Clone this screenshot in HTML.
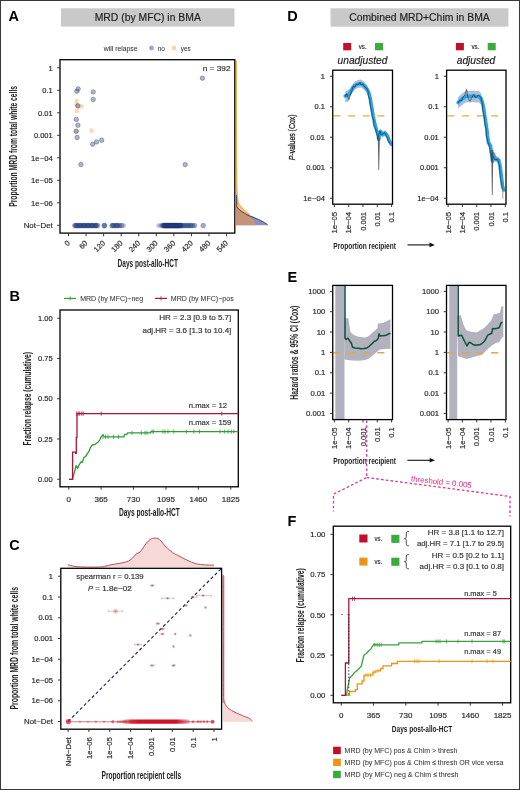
<!DOCTYPE html><html><head><meta charset="utf-8"><style>html,body{margin:0;padding:0;background:#fff;overflow:hidden;width:520px;height:790px}svg{display:block;will-change:transform}text{font-family:"Liberation Sans",sans-serif}</style></head><body><svg width="520" height="790" viewBox="0 0 520 790" font-family='"Liberation Sans", sans-serif'>
<rect x="0.00" y="0.00" width="520.00" height="790.00" fill="#fff" />
<text x="8.60" y="20.80" font-size="14.5" font-weight="bold">A</text>
<rect x="61.00" y="8.30" width="173.50" height="18.30" fill="#c9c9ca" />
<text x="147.75" y="21.30" font-size="10.4" text-anchor="middle" fill="#222" stroke="#222" stroke-width="0.18">MRD (by MFC) in BMA</text>
<text x="103.80" y="50.50" font-size="7.0" fill="#333" stroke="#333" stroke-width="0.05" textLength="33.70" lengthAdjust="spacingAndGlyphs">will relapse</text>
<circle cx="151.50" cy="48.00" r="2.4" fill="#a3a6cc"/>
<text x="157.70" y="50.50" font-size="7.0" fill="#333" stroke="#333" stroke-width="0.05" textLength="7.30" lengthAdjust="spacingAndGlyphs">no</text>
<circle cx="174.00" cy="48.00" r="2.4" fill="#f8d3b0"/>
<text x="180.80" y="50.50" font-size="7.0" fill="#333" stroke="#333" stroke-width="0.05" textLength="10.00" lengthAdjust="spacingAndGlyphs">yes</text>
<path d="M236.20 60.50 C236.22 75.42 236.25 127.58 236.30 150.00 C236.35 172.42 236.42 186.17 236.50 195.00 C236.58 203.83 236.70 200.98 236.80 203.00 C236.90 205.02 236.42 205.78 237.10 207.10 C237.78 208.42 239.67 209.88 240.90 210.90 C242.13 211.92 243.33 212.50 244.50 213.20 C245.67 213.90 246.18 214.32 247.90 215.10 C249.62 215.88 252.50 216.92 254.80 217.90 C257.10 218.88 260.00 220.15 261.70 221.00 C263.40 221.85 264.02 222.37 265.00 223.00 C265.98 223.63 267.17 224.50 267.60 224.80 L267.60 225.30 L236.00 225.30 Z" stroke="none" stroke-width="1" fill="rgba(59,73,146,0.6)" />
<path d="M236.30 60.50 C236.33 75.42 236.40 128.75 236.50 150.00 C236.60 171.25 236.62 179.35 236.90 188.00 C237.18 196.65 237.53 198.77 238.20 201.90 C238.87 205.03 239.75 205.30 240.90 206.80 C242.05 208.30 243.60 209.52 245.10 210.90 C246.60 212.28 248.67 213.83 249.90 215.10 C251.13 216.37 251.73 217.43 252.50 218.50 C253.27 219.57 253.88 220.38 254.50 221.50 C255.12 222.62 255.92 224.58 256.20 225.20 L256.20 225.30 L236.00 225.30 Z" stroke="none" stroke-width="1" fill="rgba(245,148,62,0.55)" />
<path d="M236.50 195.00 C236.55 196.33 236.70 200.98 236.80 203.00 C236.90 205.02 236.42 205.78 237.10 207.10 C237.78 208.42 239.67 209.88 240.90 210.90 C242.13 211.92 243.33 212.50 244.50 213.20 C245.67 213.90 246.18 214.32 247.90 215.10 C249.62 215.88 252.50 216.92 254.80 217.90 C257.10 218.88 260.00 220.15 261.70 221.00 C263.40 221.85 264.02 222.37 265.00 223.00 C265.98 223.63 267.17 224.50 267.60 224.80" stroke="#2b355f" stroke-width="1.0" fill="none" />
<path d="M236.30 60.50 C236.33 75.42 236.40 128.75 236.50 150.00 C236.60 171.25 236.62 179.35 236.90 188.00 C237.18 196.65 237.53 198.77 238.20 201.90 C238.87 205.03 239.75 205.30 240.90 206.80 C242.05 208.30 243.60 209.52 245.10 210.90 C246.60 212.28 249.10 214.40 249.90 215.10" stroke="#e8b440" stroke-width="1.2" fill="none" />
<rect x="60.00" y="59.70" width="174.80" height="173.40" fill="none" stroke="#000" stroke-width="1.3" />
<line x1="57.20" y1="67.80" x2="60.00" y2="67.80" stroke="#333" stroke-width="1" />
<text x="52.70" y="70.50" font-size="7.5" text-anchor="end" fill="#2a2a2a" stroke="#2a2a2a" stroke-width="0.18">1</text>
<line x1="57.20" y1="90.30" x2="60.00" y2="90.30" stroke="#333" stroke-width="1" />
<text x="52.70" y="93.00" font-size="7.5" text-anchor="end" fill="#2a2a2a" stroke="#2a2a2a" stroke-width="0.18">0.1</text>
<line x1="57.20" y1="112.80" x2="60.00" y2="112.80" stroke="#333" stroke-width="1" />
<text x="52.70" y="115.50" font-size="7.5" text-anchor="end" fill="#2a2a2a" stroke="#2a2a2a" stroke-width="0.18">0.01</text>
<line x1="57.20" y1="135.30" x2="60.00" y2="135.30" stroke="#333" stroke-width="1" />
<text x="52.70" y="138.00" font-size="7.5" text-anchor="end" fill="#2a2a2a" stroke="#2a2a2a" stroke-width="0.18">0.001</text>
<line x1="57.20" y1="157.80" x2="60.00" y2="157.80" stroke="#333" stroke-width="1" />
<text x="52.70" y="160.50" font-size="7.5" text-anchor="end" fill="#2a2a2a" stroke="#2a2a2a" stroke-width="0.18" textLength="21.60" lengthAdjust="spacingAndGlyphs">1e−04</text>
<line x1="57.20" y1="180.30" x2="60.00" y2="180.30" stroke="#333" stroke-width="1" />
<text x="52.70" y="183.00" font-size="7.5" text-anchor="end" fill="#2a2a2a" stroke="#2a2a2a" stroke-width="0.18" textLength="21.60" lengthAdjust="spacingAndGlyphs">1e−05</text>
<line x1="57.20" y1="202.80" x2="60.00" y2="202.80" stroke="#333" stroke-width="1" />
<text x="52.70" y="205.50" font-size="7.5" text-anchor="end" fill="#2a2a2a" stroke="#2a2a2a" stroke-width="0.18" textLength="21.60" lengthAdjust="spacingAndGlyphs">1e−06</text>
<line x1="57.20" y1="225.30" x2="60.00" y2="225.30" stroke="#333" stroke-width="1" />
<text x="52.70" y="228.00" font-size="7.5" text-anchor="end" fill="#2a2a2a" stroke="#2a2a2a" stroke-width="0.18" textLength="29.00" lengthAdjust="spacingAndGlyphs">Not−Det</text>
<line x1="68.50" y1="233.10" x2="68.50" y2="236.30" stroke="#333" stroke-width="1" />
<text x="70.50" y="243.60" font-size="7.5" text-anchor="end" fill="#2a2a2a" stroke="#2a2a2a" stroke-width="0.18" transform="rotate(-45 70.50 243.60)">0</text>
<line x1="86.06" y1="233.10" x2="86.06" y2="236.30" stroke="#333" stroke-width="1" />
<text x="88.06" y="243.60" font-size="7.5" text-anchor="end" fill="#2a2a2a" stroke="#2a2a2a" stroke-width="0.18" transform="rotate(-45 88.06 243.60)">60</text>
<line x1="103.62" y1="233.10" x2="103.62" y2="236.30" stroke="#333" stroke-width="1" />
<text x="105.62" y="243.60" font-size="7.5" text-anchor="end" fill="#2a2a2a" stroke="#2a2a2a" stroke-width="0.18" transform="rotate(-45 105.62 243.60)">120</text>
<line x1="121.18" y1="233.10" x2="121.18" y2="236.30" stroke="#333" stroke-width="1" />
<text x="123.18" y="243.60" font-size="7.5" text-anchor="end" fill="#2a2a2a" stroke="#2a2a2a" stroke-width="0.18" transform="rotate(-45 123.18 243.60)">180</text>
<line x1="138.74" y1="233.10" x2="138.74" y2="236.30" stroke="#333" stroke-width="1" />
<text x="140.74" y="243.60" font-size="7.5" text-anchor="end" fill="#2a2a2a" stroke="#2a2a2a" stroke-width="0.18" transform="rotate(-45 140.74 243.60)">240</text>
<line x1="156.30" y1="233.10" x2="156.30" y2="236.30" stroke="#333" stroke-width="1" />
<text x="158.30" y="243.60" font-size="7.5" text-anchor="end" fill="#2a2a2a" stroke="#2a2a2a" stroke-width="0.18" transform="rotate(-45 158.30 243.60)">300</text>
<line x1="173.86" y1="233.10" x2="173.86" y2="236.30" stroke="#333" stroke-width="1" />
<text x="175.86" y="243.60" font-size="7.5" text-anchor="end" fill="#2a2a2a" stroke="#2a2a2a" stroke-width="0.18" transform="rotate(-45 175.86 243.60)">360</text>
<line x1="191.42" y1="233.10" x2="191.42" y2="236.30" stroke="#333" stroke-width="1" />
<text x="193.42" y="243.60" font-size="7.5" text-anchor="end" fill="#2a2a2a" stroke="#2a2a2a" stroke-width="0.18" transform="rotate(-45 193.42 243.60)">420</text>
<line x1="208.98" y1="233.10" x2="208.98" y2="236.30" stroke="#333" stroke-width="1" />
<text x="210.98" y="243.60" font-size="7.5" text-anchor="end" fill="#2a2a2a" stroke="#2a2a2a" stroke-width="0.18" transform="rotate(-45 210.98 243.60)">480</text>
<line x1="226.54" y1="233.10" x2="226.54" y2="236.30" stroke="#333" stroke-width="1" />
<text x="228.54" y="243.60" font-size="7.5" text-anchor="end" fill="#2a2a2a" stroke="#2a2a2a" stroke-width="0.18" transform="rotate(-45 228.54 243.60)">540</text>
<text x="147.75" y="266.70" font-size="10" text-anchor="middle" fill="#222" font-weight="bold" textLength="60.50" lengthAdjust="spacingAndGlyphs">Days post-allo-HCT</text>
<text x="17.30" y="146.35" font-size="10" text-anchor="middle" fill="#222" font-weight="bold" textLength="120.90" lengthAdjust="spacingAndGlyphs" transform="rotate(-90 17.30 146.35)">Proportion MRD from total white cells</text>
<text x="230.50" y="71.00" font-size="7.6" text-anchor="end" fill="#333" stroke="#333" stroke-width="0.18" textLength="27.80" lengthAdjust="spacingAndGlyphs">n = 392</text>
<circle cx="76.60" cy="101.00" r="2.35" fill="rgba(240,168,95,0.42)"/>
<circle cx="81.50" cy="106.40" r="2.35" fill="rgba(240,168,95,0.42)"/>
<circle cx="76.80" cy="110.90" r="2.35" fill="rgba(240,168,95,0.42)"/>
<circle cx="91.60" cy="130.70" r="2.35" fill="rgba(240,168,95,0.42)"/>
<circle cx="77.50" cy="106.50" r="2.35" fill="rgba(240,168,95,0.42)"/>
<circle cx="76.60" cy="131.50" r="2.35" fill="rgba(240,168,95,0.42)"/>
<circle cx="76.50" cy="104.50" r="2.35" fill="rgba(240,168,95,0.42)"/>
<circle cx="78.20" cy="88.90" r="2.2" fill="rgba(85,95,150,0.45)" stroke="rgba(55,62,105,0.6)" stroke-width="0.7"/>
<circle cx="76.80" cy="91.20" r="2.2" fill="rgba(85,95,150,0.45)" stroke="rgba(55,62,105,0.6)" stroke-width="0.7"/>
<circle cx="93.20" cy="91.90" r="2.2" fill="rgba(85,95,150,0.45)" stroke="rgba(55,62,105,0.6)" stroke-width="0.7"/>
<circle cx="93.20" cy="99.40" r="2.2" fill="rgba(85,95,150,0.45)" stroke="rgba(55,62,105,0.6)" stroke-width="0.7"/>
<circle cx="77.90" cy="105.80" r="2.2" fill="rgba(85,95,150,0.45)" stroke="rgba(55,62,105,0.6)" stroke-width="0.7"/>
<circle cx="76.30" cy="119.40" r="2.2" fill="rgba(85,95,150,0.45)" stroke="rgba(55,62,105,0.6)" stroke-width="0.7"/>
<circle cx="77.90" cy="125.20" r="2.2" fill="rgba(85,95,150,0.45)" stroke="rgba(55,62,105,0.6)" stroke-width="0.7"/>
<circle cx="76.20" cy="131.20" r="2.2" fill="rgba(85,95,150,0.45)" stroke="rgba(55,62,105,0.6)" stroke-width="0.7"/>
<circle cx="77.10" cy="137.50" r="2.2" fill="rgba(85,95,150,0.45)" stroke="rgba(55,62,105,0.6)" stroke-width="0.7"/>
<circle cx="92.60" cy="144.20" r="2.2" fill="rgba(85,95,150,0.45)" stroke="rgba(55,62,105,0.6)" stroke-width="0.7"/>
<circle cx="96.60" cy="141.90" r="2.2" fill="rgba(85,95,150,0.45)" stroke="rgba(55,62,105,0.6)" stroke-width="0.7"/>
<circle cx="101.70" cy="140.20" r="2.2" fill="rgba(85,95,150,0.45)" stroke="rgba(55,62,105,0.6)" stroke-width="0.7"/>
<circle cx="80.90" cy="164.50" r="2.2" fill="rgba(85,95,150,0.45)" stroke="rgba(55,62,105,0.6)" stroke-width="0.7"/>
<circle cx="202.40" cy="78.20" r="2.2" fill="rgba(85,95,150,0.45)" stroke="rgba(55,62,105,0.6)" stroke-width="0.7"/>
<circle cx="185.20" cy="164.60" r="2.2" fill="rgba(85,95,150,0.45)" stroke="rgba(55,62,105,0.6)" stroke-width="0.7"/>
<circle cx="74.80" cy="225.60" r="2.35" fill="rgba(38,70,140,0.45)" stroke="rgba(25,42,95,0.45)" stroke-width="0.6"/>
<circle cx="76.50" cy="225.60" r="2.35" fill="rgba(38,70,140,0.45)" stroke="rgba(25,42,95,0.45)" stroke-width="0.6"/>
<circle cx="78.00" cy="225.60" r="2.35" fill="rgba(38,70,140,0.45)" stroke="rgba(25,42,95,0.45)" stroke-width="0.6"/>
<circle cx="79.50" cy="225.60" r="2.35" fill="rgba(38,70,140,0.45)" stroke="rgba(25,42,95,0.45)" stroke-width="0.6"/>
<circle cx="81.00" cy="225.60" r="2.35" fill="rgba(38,70,140,0.45)" stroke="rgba(25,42,95,0.45)" stroke-width="0.6"/>
<circle cx="82.50" cy="225.60" r="2.35" fill="rgba(38,70,140,0.45)" stroke="rgba(25,42,95,0.45)" stroke-width="0.6"/>
<circle cx="84.00" cy="225.60" r="2.35" fill="rgba(38,70,140,0.45)" stroke="rgba(25,42,95,0.45)" stroke-width="0.6"/>
<circle cx="85.50" cy="225.60" r="2.35" fill="rgba(38,70,140,0.45)" stroke="rgba(25,42,95,0.45)" stroke-width="0.6"/>
<circle cx="87.00" cy="225.60" r="2.35" fill="rgba(38,70,140,0.45)" stroke="rgba(25,42,95,0.45)" stroke-width="0.6"/>
<circle cx="88.50" cy="225.60" r="2.35" fill="rgba(38,70,140,0.45)" stroke="rgba(25,42,95,0.45)" stroke-width="0.6"/>
<circle cx="90.00" cy="225.60" r="2.35" fill="rgba(38,70,140,0.45)" stroke="rgba(25,42,95,0.45)" stroke-width="0.6"/>
<circle cx="91.50" cy="225.60" r="2.35" fill="rgba(38,70,140,0.45)" stroke="rgba(25,42,95,0.45)" stroke-width="0.6"/>
<circle cx="93.00" cy="225.60" r="2.35" fill="rgba(38,70,140,0.45)" stroke="rgba(25,42,95,0.45)" stroke-width="0.6"/>
<circle cx="94.50" cy="225.60" r="2.35" fill="rgba(38,70,140,0.45)" stroke="rgba(25,42,95,0.45)" stroke-width="0.6"/>
<circle cx="96.00" cy="225.60" r="2.35" fill="rgba(38,70,140,0.45)" stroke="rgba(25,42,95,0.45)" stroke-width="0.6"/>
<circle cx="97.60" cy="225.60" r="2.35" fill="rgba(38,70,140,0.45)" stroke="rgba(25,42,95,0.45)" stroke-width="0.6"/>
<circle cx="104.40" cy="225.60" r="2.35" fill="rgba(38,70,140,0.45)" stroke="rgba(25,42,95,0.45)" stroke-width="0.6"/>
<circle cx="112.00" cy="225.60" r="2.35" fill="rgba(38,70,140,0.45)" stroke="rgba(25,42,95,0.45)" stroke-width="0.6"/>
<circle cx="114.00" cy="225.60" r="2.35" fill="rgba(38,70,140,0.45)" stroke="rgba(25,42,95,0.45)" stroke-width="0.6"/>
<circle cx="116.00" cy="225.60" r="2.35" fill="rgba(38,70,140,0.45)" stroke="rgba(25,42,95,0.45)" stroke-width="0.6"/>
<circle cx="118.00" cy="225.60" r="2.35" fill="rgba(38,70,140,0.45)" stroke="rgba(25,42,95,0.45)" stroke-width="0.6"/>
<circle cx="120.00" cy="225.60" r="2.35" fill="rgba(38,70,140,0.45)" stroke="rgba(25,42,95,0.45)" stroke-width="0.6"/>
<circle cx="121.80" cy="225.60" r="2.35" fill="rgba(38,70,140,0.45)" stroke="rgba(25,42,95,0.45)" stroke-width="0.6"/>
<circle cx="76.00" cy="225.60" r="2.35" fill="rgba(38,70,140,0.45)" stroke="rgba(25,42,95,0.45)" stroke-width="0.6"/>
<circle cx="80.00" cy="225.60" r="2.35" fill="rgba(38,70,140,0.45)" stroke="rgba(25,42,95,0.45)" stroke-width="0.6"/>
<circle cx="84.00" cy="225.60" r="2.35" fill="rgba(38,70,140,0.45)" stroke="rgba(25,42,95,0.45)" stroke-width="0.6"/>
<circle cx="88.00" cy="225.60" r="2.35" fill="rgba(38,70,140,0.45)" stroke="rgba(25,42,95,0.45)" stroke-width="0.6"/>
<circle cx="92.00" cy="225.60" r="2.35" fill="rgba(38,70,140,0.45)" stroke="rgba(25,42,95,0.45)" stroke-width="0.6"/>
<circle cx="96.00" cy="225.60" r="2.35" fill="rgba(38,70,140,0.45)" stroke="rgba(25,42,95,0.45)" stroke-width="0.6"/>
<circle cx="104.40" cy="225.60" r="2.35" fill="rgba(38,70,140,0.45)" stroke="rgba(25,42,95,0.45)" stroke-width="0.6"/>
<circle cx="113.00" cy="225.60" r="2.35" fill="rgba(38,70,140,0.45)" stroke="rgba(25,42,95,0.45)" stroke-width="0.6"/>
<circle cx="117.00" cy="225.60" r="2.35" fill="rgba(38,70,140,0.45)" stroke="rgba(25,42,95,0.45)" stroke-width="0.6"/>
<circle cx="123.80" cy="225.60" r="2.3" fill="rgba(120,130,175,0.45)"/>
<circle cx="158.50" cy="225.60" r="2.3" fill="rgba(120,130,175,0.45)"/>
<circle cx="160.50" cy="225.60" r="2.3" fill="rgba(120,130,175,0.45)"/>
<circle cx="162.30" cy="225.60" r="2.35" fill="rgba(38,70,140,0.45)" stroke="rgba(25,42,95,0.45)" stroke-width="0.6"/>
<circle cx="163.80" cy="225.60" r="2.35" fill="rgba(38,70,140,0.45)" stroke="rgba(25,42,95,0.45)" stroke-width="0.6"/>
<circle cx="163.80" cy="225.60" r="2.35" fill="rgba(38,70,140,0.45)" stroke="rgba(25,42,95,0.45)" stroke-width="0.6"/>
<circle cx="164.70" cy="225.60" r="2.35" fill="rgba(38,70,140,0.45)" stroke="rgba(25,42,95,0.45)" stroke-width="0.6"/>
<circle cx="164.70" cy="225.60" r="2.35" fill="rgba(38,70,140,0.45)" stroke="rgba(25,42,95,0.45)" stroke-width="0.6"/>
<circle cx="165.60" cy="225.60" r="2.35" fill="rgba(38,70,140,0.45)" stroke="rgba(25,42,95,0.45)" stroke-width="0.6"/>
<circle cx="165.60" cy="225.60" r="2.35" fill="rgba(38,70,140,0.45)" stroke="rgba(25,42,95,0.45)" stroke-width="0.6"/>
<circle cx="166.50" cy="225.60" r="2.35" fill="rgba(38,70,140,0.45)" stroke="rgba(25,42,95,0.45)" stroke-width="0.6"/>
<circle cx="166.50" cy="225.60" r="2.35" fill="rgba(38,70,140,0.45)" stroke="rgba(25,42,95,0.45)" stroke-width="0.6"/>
<circle cx="167.40" cy="225.60" r="2.35" fill="rgba(38,70,140,0.45)" stroke="rgba(25,42,95,0.45)" stroke-width="0.6"/>
<circle cx="167.40" cy="225.60" r="2.35" fill="rgba(38,70,140,0.45)" stroke="rgba(25,42,95,0.45)" stroke-width="0.6"/>
<circle cx="168.30" cy="225.60" r="2.35" fill="rgba(38,70,140,0.45)" stroke="rgba(25,42,95,0.45)" stroke-width="0.6"/>
<circle cx="168.30" cy="225.60" r="2.35" fill="rgba(38,70,140,0.45)" stroke="rgba(25,42,95,0.45)" stroke-width="0.6"/>
<circle cx="169.20" cy="225.60" r="2.35" fill="rgba(38,70,140,0.45)" stroke="rgba(25,42,95,0.45)" stroke-width="0.6"/>
<circle cx="169.20" cy="225.60" r="2.35" fill="rgba(38,70,140,0.45)" stroke="rgba(25,42,95,0.45)" stroke-width="0.6"/>
<circle cx="170.10" cy="225.60" r="2.35" fill="rgba(38,70,140,0.45)" stroke="rgba(25,42,95,0.45)" stroke-width="0.6"/>
<circle cx="170.10" cy="225.60" r="2.35" fill="rgba(38,70,140,0.45)" stroke="rgba(25,42,95,0.45)" stroke-width="0.6"/>
<circle cx="171.00" cy="225.60" r="2.35" fill="rgba(38,70,140,0.45)" stroke="rgba(25,42,95,0.45)" stroke-width="0.6"/>
<circle cx="171.00" cy="225.60" r="2.35" fill="rgba(38,70,140,0.45)" stroke="rgba(25,42,95,0.45)" stroke-width="0.6"/>
<circle cx="171.90" cy="225.60" r="2.35" fill="rgba(38,70,140,0.45)" stroke="rgba(25,42,95,0.45)" stroke-width="0.6"/>
<circle cx="171.90" cy="225.60" r="2.35" fill="rgba(38,70,140,0.45)" stroke="rgba(25,42,95,0.45)" stroke-width="0.6"/>
<circle cx="172.80" cy="225.60" r="2.35" fill="rgba(38,70,140,0.45)" stroke="rgba(25,42,95,0.45)" stroke-width="0.6"/>
<circle cx="172.80" cy="225.60" r="2.35" fill="rgba(38,70,140,0.45)" stroke="rgba(25,42,95,0.45)" stroke-width="0.6"/>
<circle cx="173.70" cy="225.60" r="2.35" fill="rgba(38,70,140,0.45)" stroke="rgba(25,42,95,0.45)" stroke-width="0.6"/>
<circle cx="173.70" cy="225.60" r="2.35" fill="rgba(38,70,140,0.45)" stroke="rgba(25,42,95,0.45)" stroke-width="0.6"/>
<circle cx="174.60" cy="225.60" r="2.35" fill="rgba(38,70,140,0.45)" stroke="rgba(25,42,95,0.45)" stroke-width="0.6"/>
<circle cx="174.60" cy="225.60" r="2.35" fill="rgba(38,70,140,0.45)" stroke="rgba(25,42,95,0.45)" stroke-width="0.6"/>
<circle cx="175.50" cy="225.60" r="2.35" fill="rgba(38,70,140,0.45)" stroke="rgba(25,42,95,0.45)" stroke-width="0.6"/>
<circle cx="175.50" cy="225.60" r="2.35" fill="rgba(38,70,140,0.45)" stroke="rgba(25,42,95,0.45)" stroke-width="0.6"/>
<circle cx="176.40" cy="225.60" r="2.35" fill="rgba(38,70,140,0.45)" stroke="rgba(25,42,95,0.45)" stroke-width="0.6"/>
<circle cx="176.40" cy="225.60" r="2.35" fill="rgba(38,70,140,0.45)" stroke="rgba(25,42,95,0.45)" stroke-width="0.6"/>
<circle cx="177.30" cy="225.60" r="2.35" fill="rgba(38,70,140,0.45)" stroke="rgba(25,42,95,0.45)" stroke-width="0.6"/>
<circle cx="177.30" cy="225.60" r="2.35" fill="rgba(38,70,140,0.45)" stroke="rgba(25,42,95,0.45)" stroke-width="0.6"/>
<circle cx="178.20" cy="225.60" r="2.35" fill="rgba(38,70,140,0.45)" stroke="rgba(25,42,95,0.45)" stroke-width="0.6"/>
<circle cx="178.20" cy="225.60" r="2.35" fill="rgba(38,70,140,0.45)" stroke="rgba(25,42,95,0.45)" stroke-width="0.6"/>
<circle cx="179.10" cy="225.60" r="2.35" fill="rgba(38,70,140,0.45)" stroke="rgba(25,42,95,0.45)" stroke-width="0.6"/>
<circle cx="179.10" cy="225.60" r="2.35" fill="rgba(38,70,140,0.45)" stroke="rgba(25,42,95,0.45)" stroke-width="0.6"/>
<circle cx="180.00" cy="225.60" r="2.35" fill="rgba(38,70,140,0.45)" stroke="rgba(25,42,95,0.45)" stroke-width="0.6"/>
<circle cx="180.00" cy="225.60" r="2.35" fill="rgba(38,70,140,0.45)" stroke="rgba(25,42,95,0.45)" stroke-width="0.6"/>
<circle cx="180.90" cy="225.60" r="2.35" fill="rgba(38,70,140,0.45)" stroke="rgba(25,42,95,0.45)" stroke-width="0.6"/>
<circle cx="180.90" cy="225.60" r="2.35" fill="rgba(38,70,140,0.45)" stroke="rgba(25,42,95,0.45)" stroke-width="0.6"/>
<circle cx="182.00" cy="225.60" r="2.35" fill="rgba(38,70,140,0.45)" stroke="rgba(25,42,95,0.45)" stroke-width="0.6"/>
<circle cx="183.50" cy="225.60" r="2.35" fill="rgba(38,70,140,0.45)" stroke="rgba(25,42,95,0.45)" stroke-width="0.6"/>
<circle cx="185.00" cy="225.60" r="2.35" fill="rgba(38,70,140,0.45)" stroke="rgba(25,42,95,0.45)" stroke-width="0.6"/>
<circle cx="186.50" cy="225.60" r="2.35" fill="rgba(38,70,140,0.45)" stroke="rgba(25,42,95,0.45)" stroke-width="0.6"/>
<circle cx="188.00" cy="225.60" r="2.35" fill="rgba(38,70,140,0.45)" stroke="rgba(25,42,95,0.45)" stroke-width="0.6"/>
<circle cx="189.50" cy="225.60" r="2.35" fill="rgba(38,70,140,0.45)" stroke="rgba(25,42,95,0.45)" stroke-width="0.6"/>
<circle cx="191.00" cy="225.60" r="2.35" fill="rgba(38,70,140,0.45)" stroke="rgba(25,42,95,0.45)" stroke-width="0.6"/>
<circle cx="192.50" cy="225.60" r="2.35" fill="rgba(38,70,140,0.45)" stroke="rgba(25,42,95,0.45)" stroke-width="0.6"/>
<circle cx="194.60" cy="225.60" r="2.35" fill="rgba(38,70,140,0.45)" stroke="rgba(25,42,95,0.45)" stroke-width="0.6"/>
<circle cx="203.20" cy="225.60" r="2.35" fill="rgba(38,70,140,0.45)" stroke="rgba(25,42,95,0.45)" stroke-width="0.6"/>
<text x="9.60" y="301.30" font-size="14.5" font-weight="bold">B</text>
<line x1="64.00" y1="298.40" x2="76.00" y2="298.40" stroke="#2f9e37" stroke-width="1.2" />
<line x1="70.20" y1="296.30" x2="70.20" y2="300.50" stroke="#2f9e37" stroke-width="0.8" />
<text x="80.20" y="301.00" font-size="7.5" fill="#333" stroke="#333" stroke-width="0.04" textLength="63.00" lengthAdjust="spacingAndGlyphs">MRD (by MFC)−neg</text>
<line x1="155.00" y1="298.40" x2="167.00" y2="298.40" stroke="#a9163c" stroke-width="1.2" />
<line x1="161.00" y1="296.30" x2="161.00" y2="300.50" stroke="#a9163c" stroke-width="0.8" />
<text x="170.75" y="301.00" font-size="7.5" fill="#333" stroke="#333" stroke-width="0.04" textLength="63.00" lengthAdjust="spacingAndGlyphs">MRD (by MFC)−pos</text>
<rect x="60.00" y="310.00" width="178.30" height="176.80" fill="none" stroke="#000" stroke-width="1.3" />
<line x1="57.20" y1="318.25" x2="60.00" y2="318.25" stroke="#333" stroke-width="1" />
<text x="52.60" y="320.95" font-size="7.5" text-anchor="end" fill="#2a2a2a" stroke="#2a2a2a" stroke-width="0.18">1.00</text>
<line x1="57.20" y1="358.50" x2="60.00" y2="358.50" stroke="#333" stroke-width="1" />
<text x="52.60" y="361.20" font-size="7.5" text-anchor="end" fill="#2a2a2a" stroke="#2a2a2a" stroke-width="0.18">0.75</text>
<line x1="57.20" y1="398.75" x2="60.00" y2="398.75" stroke="#333" stroke-width="1" />
<text x="52.60" y="401.45" font-size="7.5" text-anchor="end" fill="#2a2a2a" stroke="#2a2a2a" stroke-width="0.18">0.50</text>
<line x1="57.20" y1="439.00" x2="60.00" y2="439.00" stroke="#333" stroke-width="1" />
<text x="52.60" y="441.70" font-size="7.5" text-anchor="end" fill="#2a2a2a" stroke="#2a2a2a" stroke-width="0.18">0.25</text>
<line x1="57.20" y1="479.25" x2="60.00" y2="479.25" stroke="#333" stroke-width="1" />
<text x="52.60" y="481.95" font-size="7.5" text-anchor="end" fill="#2a2a2a" stroke="#2a2a2a" stroke-width="0.18">0.00</text>
<line x1="68.75" y1="486.80" x2="68.75" y2="489.60" stroke="#333" stroke-width="1" />
<text x="68.75" y="501.90" font-size="8.0" text-anchor="middle" fill="#2a2a2a" stroke="#2a2a2a" stroke-width="0.18">0</text>
<line x1="101.15" y1="486.80" x2="101.15" y2="489.60" stroke="#333" stroke-width="1" />
<text x="101.15" y="501.90" font-size="8.0" text-anchor="middle" fill="#2a2a2a" stroke="#2a2a2a" stroke-width="0.18">365</text>
<line x1="133.55" y1="486.80" x2="133.55" y2="489.60" stroke="#333" stroke-width="1" />
<text x="133.55" y="501.90" font-size="8.0" text-anchor="middle" fill="#2a2a2a" stroke="#2a2a2a" stroke-width="0.18">730</text>
<line x1="165.95" y1="486.80" x2="165.95" y2="489.60" stroke="#333" stroke-width="1" />
<text x="165.95" y="501.90" font-size="8.0" text-anchor="middle" fill="#2a2a2a" stroke="#2a2a2a" stroke-width="0.18">1095</text>
<line x1="198.35" y1="486.80" x2="198.35" y2="489.60" stroke="#333" stroke-width="1" />
<text x="198.35" y="501.90" font-size="8.0" text-anchor="middle" fill="#2a2a2a" stroke="#2a2a2a" stroke-width="0.18">1460</text>
<line x1="230.75" y1="486.80" x2="230.75" y2="489.60" stroke="#333" stroke-width="1" />
<text x="230.75" y="501.90" font-size="8.0" text-anchor="middle" fill="#2a2a2a" stroke="#2a2a2a" stroke-width="0.18">1825</text>
<text x="149.40" y="516.40" font-size="10" text-anchor="middle" fill="#222" font-weight="bold" textLength="61.00" lengthAdjust="spacingAndGlyphs">Days post-allo-HCT</text>
<text x="30.90" y="398.85" font-size="10" text-anchor="middle" fill="#222" font-weight="bold" textLength="93.50" lengthAdjust="spacingAndGlyphs" transform="rotate(-90 30.90 398.85)">Fraction relapse (cumulative)</text>
<text x="231.30" y="320.30" font-size="7.9" text-anchor="end" fill="#333" stroke="#333" stroke-width="0.18" textLength="72.10" lengthAdjust="spacingAndGlyphs">HR = 2.3 [0.9 to 5.7]</text>
<text x="231.30" y="333.00" font-size="7.8" text-anchor="end" fill="#333" stroke="#333" stroke-width="0.18" textLength="88.80" lengthAdjust="spacingAndGlyphs">adj.HR = 3.6 [1.3 to 10.4]</text>
<text x="227.00" y="408.00" font-size="7.7" text-anchor="end" fill="#333" stroke="#333" stroke-width="0.18" textLength="38.20" lengthAdjust="spacingAndGlyphs">n.max = 12</text>
<text x="231.30" y="425.00" font-size="7.7" text-anchor="end" fill="#333" stroke="#333" stroke-width="0.18" textLength="42.50" lengthAdjust="spacingAndGlyphs">n.max = 159</text>
<polyline points="69.10,479.40 72.50,479.40 73.30,476.00 74.50,472.00 76.10,465.70 77.70,468.30 79.20,464.70 81.20,461.70 82.20,462.50 84.00,457.30 85.50,456.60 87.50,453.30 89.00,451.50 90.40,447.50 92.70,444.60 94.50,444.80 96.20,443.50 98.50,441.70 100.00,439.50 101.30,436.50 103.10,434.80 104.20,436.80 124.00,436.80 124.50,434.30 127.00,434.30 127.50,432.80 150.40,432.80 150.90,431.60 238.30,431.60" stroke="#2f9e37" stroke-width="1.3" fill="none" stroke-linejoin="round"/>
<line x1="103.00" y1="434.70" x2="103.00" y2="438.90" stroke="#2f9e37" stroke-width="0.8" />
<line x1="105.50" y1="434.70" x2="105.50" y2="438.90" stroke="#2f9e37" stroke-width="0.8" />
<line x1="108.00" y1="434.70" x2="108.00" y2="438.90" stroke="#2f9e37" stroke-width="0.8" />
<line x1="113.50" y1="434.70" x2="113.50" y2="438.90" stroke="#2f9e37" stroke-width="0.8" />
<line x1="118.50" y1="434.70" x2="118.50" y2="438.90" stroke="#2f9e37" stroke-width="0.8" />
<line x1="132.00" y1="430.70" x2="132.00" y2="434.90" stroke="#2f9e37" stroke-width="0.8" />
<line x1="141.30" y1="430.70" x2="141.30" y2="434.90" stroke="#2f9e37" stroke-width="0.8" />
<line x1="145.00" y1="430.70" x2="145.00" y2="434.90" stroke="#2f9e37" stroke-width="0.8" />
<line x1="147.00" y1="430.70" x2="147.00" y2="434.90" stroke="#2f9e37" stroke-width="0.8" />
<line x1="152.00" y1="429.50" x2="152.00" y2="433.70" stroke="#2f9e37" stroke-width="0.8" />
<line x1="153.40" y1="429.50" x2="153.40" y2="433.70" stroke="#2f9e37" stroke-width="0.8" />
<line x1="163.00" y1="429.50" x2="163.00" y2="433.70" stroke="#2f9e37" stroke-width="0.8" />
<line x1="165.00" y1="429.50" x2="165.00" y2="433.70" stroke="#2f9e37" stroke-width="0.8" />
<line x1="168.00" y1="429.50" x2="168.00" y2="433.70" stroke="#2f9e37" stroke-width="0.8" />
<line x1="173.80" y1="429.50" x2="173.80" y2="433.70" stroke="#2f9e37" stroke-width="0.8" />
<line x1="186.30" y1="429.50" x2="186.30" y2="433.70" stroke="#2f9e37" stroke-width="0.8" />
<line x1="193.80" y1="429.50" x2="193.80" y2="433.70" stroke="#2f9e37" stroke-width="0.8" />
<line x1="199.50" y1="429.50" x2="199.50" y2="433.70" stroke="#2f9e37" stroke-width="0.8" />
<line x1="220.00" y1="429.50" x2="220.00" y2="433.70" stroke="#2f9e37" stroke-width="0.8" />
<line x1="224.30" y1="429.50" x2="224.30" y2="433.70" stroke="#2f9e37" stroke-width="0.8" />
<line x1="228.00" y1="429.50" x2="228.00" y2="433.70" stroke="#2f9e37" stroke-width="0.8" />
<line x1="231.30" y1="429.50" x2="231.30" y2="433.70" stroke="#2f9e37" stroke-width="0.8" />
<line x1="233.80" y1="429.50" x2="233.80" y2="433.70" stroke="#2f9e37" stroke-width="0.8" />
<polyline points="69.10,479.40 72.60,479.40 72.60,452.10 75.60,452.10 75.60,453.40 76.30,453.40 76.30,437.40 77.00,437.40 77.00,413.60 238.30,413.60" stroke="#a9163c" stroke-width="1.3" fill="none" stroke-linejoin="miter"/>
<line x1="76.70" y1="411.50" x2="76.70" y2="415.70" stroke="#a9163c" stroke-width="0.8" />
<line x1="78.20" y1="411.50" x2="78.20" y2="415.70" stroke="#a9163c" stroke-width="0.8" />
<line x1="79.70" y1="411.50" x2="79.70" y2="415.70" stroke="#a9163c" stroke-width="0.8" />
<line x1="81.70" y1="411.50" x2="81.70" y2="415.70" stroke="#a9163c" stroke-width="0.8" />
<line x1="83.20" y1="411.50" x2="83.20" y2="415.70" stroke="#a9163c" stroke-width="0.8" />
<line x1="101.20" y1="411.50" x2="101.20" y2="415.70" stroke="#a9163c" stroke-width="0.8" />
<line x1="221.80" y1="411.50" x2="221.80" y2="415.70" stroke="#a9163c" stroke-width="0.8" />
<text x="9.30" y="550.20" font-size="14.5" font-weight="bold">C</text>
<path d="M67.80 564.60 C68.50 564.80 70.63 565.47 72.00 565.80 C73.37 566.13 74.53 566.42 76.00 566.60 C77.47 566.78 78.47 566.82 80.80 566.90 C83.13 566.98 86.55 567.10 90.00 567.10 C93.45 567.10 98.83 567.08 101.50 566.90 C104.17 566.72 104.27 566.38 106.00 566.00 C107.73 565.62 109.90 565.00 111.90 564.60 C113.90 564.20 115.70 564.03 118.00 563.60 C120.30 563.17 123.53 562.68 125.70 562.00 C127.87 561.32 129.28 560.80 131.00 559.50 C132.72 558.20 134.50 555.45 136.00 554.20 C137.50 552.95 138.83 553.03 140.00 552.00 C141.17 550.97 141.92 549.50 143.00 548.00 C144.08 546.50 145.33 544.42 146.50 543.00 C147.67 541.58 149.00 540.27 150.00 539.50 C151.00 538.73 151.67 538.63 152.50 538.40 C153.33 538.17 154.08 538.07 155.00 538.10 C155.92 538.13 157.00 538.12 158.00 538.60 C159.00 539.08 159.83 539.77 161.00 541.00 C162.17 542.23 163.50 544.42 165.00 546.00 C166.50 547.58 168.40 549.20 170.00 550.50 C171.60 551.80 172.93 552.80 174.60 553.80 C176.27 554.80 178.43 555.68 180.00 556.50 C181.57 557.32 182.50 557.95 184.00 558.70 C185.50 559.45 187.37 560.28 189.00 561.00 C190.63 561.72 192.30 562.47 193.80 563.00 C195.30 563.53 196.38 563.90 198.00 564.20 C199.62 564.50 201.83 564.67 203.50 564.80 C205.17 564.93 206.25 564.95 208.00 565.00 C209.75 565.05 213.00 565.08 214.00 565.10 L214.00 567.30 L67.80 567.30 Z" stroke="none" stroke-width="1" fill="rgba(222,115,110,0.28)" />
<path d="M67.80 564.60 C68.50 564.80 70.63 565.47 72.00 565.80 C73.37 566.13 74.53 566.42 76.00 566.60 C77.47 566.78 78.47 566.82 80.80 566.90 C83.13 566.98 86.55 567.10 90.00 567.10 C93.45 567.10 98.83 567.08 101.50 566.90 C104.17 566.72 104.27 566.38 106.00 566.00 C107.73 565.62 109.90 565.00 111.90 564.60 C113.90 564.20 115.70 564.03 118.00 563.60 C120.30 563.17 123.53 562.68 125.70 562.00 C127.87 561.32 129.28 560.80 131.00 559.50 C132.72 558.20 134.50 555.45 136.00 554.20 C137.50 552.95 138.83 553.03 140.00 552.00 C141.17 550.97 141.92 549.50 143.00 548.00 C144.08 546.50 145.33 544.42 146.50 543.00 C147.67 541.58 149.00 540.27 150.00 539.50 C151.00 538.73 151.67 538.63 152.50 538.40 C153.33 538.17 154.08 538.07 155.00 538.10 C155.92 538.13 157.00 538.12 158.00 538.60 C159.00 539.08 159.83 539.77 161.00 541.00 C162.17 542.23 163.50 544.42 165.00 546.00 C166.50 547.58 168.40 549.20 170.00 550.50 C171.60 551.80 172.93 552.80 174.60 553.80 C176.27 554.80 178.43 555.68 180.00 556.50 C181.57 557.32 182.50 557.95 184.00 558.70 C185.50 559.45 187.37 560.28 189.00 561.00 C190.63 561.72 192.30 562.47 193.80 563.00 C195.30 563.53 196.38 563.90 198.00 564.20 C199.62 564.50 201.83 564.67 203.50 564.80 C205.17 564.93 206.25 564.95 208.00 565.00 C209.75 565.05 213.00 565.08 214.00 565.10" stroke="#bb4d5e" stroke-width="1.0" fill="none" />
<path d="M223.30 575.00 C223.32 587.50 223.37 630.00 223.40 650.00 C223.43 670.00 223.43 686.67 223.50 695.00 C223.57 703.33 223.62 698.67 223.80 700.00 C223.98 701.33 224.15 701.97 224.60 703.00 C225.05 704.03 225.73 705.20 226.50 706.20 C227.27 707.20 227.95 708.07 229.20 709.00 C230.45 709.93 232.40 710.97 234.00 711.80 C235.60 712.63 237.22 713.30 238.80 714.00 C240.38 714.70 241.88 715.35 243.50 716.00 C245.12 716.65 247.28 717.35 248.50 717.90 C249.72 718.45 250.17 718.73 250.80 719.30 C251.43 719.87 252.05 720.97 252.30 721.30 L252.30 721.80 L223.00 721.80 Z" stroke="none" stroke-width="1" fill="rgba(222,115,110,0.28)" />
<path d="M223.30 575.00 C223.32 587.50 223.37 630.00 223.40 650.00 C223.43 670.00 223.43 686.67 223.50 695.00 C223.57 703.33 223.62 698.67 223.80 700.00 C223.98 701.33 224.15 701.97 224.60 703.00 C225.05 704.03 225.73 705.20 226.50 706.20 C227.27 707.20 227.95 708.07 229.20 709.00 C230.45 709.93 232.40 710.97 234.00 711.80 C235.60 712.63 237.22 713.30 238.80 714.00 C240.38 714.70 241.88 715.35 243.50 716.00 C245.12 716.65 247.28 717.35 248.50 717.90 C249.72 718.45 250.17 718.73 250.80 719.30 C251.43 719.87 252.05 720.97 252.30 721.30" stroke="#bb4d5e" stroke-width="1.0" fill="none" />
<rect x="222.30" y="576.00" width="2.20" height="127.00" fill="rgba(205,100,112,0.6)" />
<rect x="60.80" y="568.30" width="160.80" height="160.90" fill="none" stroke="#000" stroke-width="1.3" />
<line x1="58.00" y1="576.25" x2="60.80" y2="576.25" stroke="#333" stroke-width="1" />
<text x="53.00" y="578.95" font-size="7.5" text-anchor="end" fill="#2a2a2a" stroke="#2a2a2a" stroke-width="0.18">1</text>
<line x1="58.00" y1="597.00" x2="60.80" y2="597.00" stroke="#333" stroke-width="1" />
<text x="53.00" y="599.70" font-size="7.5" text-anchor="end" fill="#2a2a2a" stroke="#2a2a2a" stroke-width="0.18">0.1</text>
<line x1="58.00" y1="617.75" x2="60.80" y2="617.75" stroke="#333" stroke-width="1" />
<text x="53.00" y="620.45" font-size="7.5" text-anchor="end" fill="#2a2a2a" stroke="#2a2a2a" stroke-width="0.18">0.01</text>
<line x1="58.00" y1="638.50" x2="60.80" y2="638.50" stroke="#333" stroke-width="1" />
<text x="53.00" y="641.20" font-size="7.5" text-anchor="end" fill="#2a2a2a" stroke="#2a2a2a" stroke-width="0.18">0.001</text>
<line x1="58.00" y1="659.25" x2="60.80" y2="659.25" stroke="#333" stroke-width="1" />
<text x="53.00" y="661.95" font-size="7.5" text-anchor="end" fill="#2a2a2a" stroke="#2a2a2a" stroke-width="0.18" textLength="21.60" lengthAdjust="spacingAndGlyphs">1e−04</text>
<line x1="58.00" y1="680.00" x2="60.80" y2="680.00" stroke="#333" stroke-width="1" />
<text x="53.00" y="682.70" font-size="7.5" text-anchor="end" fill="#2a2a2a" stroke="#2a2a2a" stroke-width="0.18" textLength="21.60" lengthAdjust="spacingAndGlyphs">1e−05</text>
<line x1="58.00" y1="700.75" x2="60.80" y2="700.75" stroke="#333" stroke-width="1" />
<text x="53.00" y="703.45" font-size="7.5" text-anchor="end" fill="#2a2a2a" stroke="#2a2a2a" stroke-width="0.18" textLength="21.60" lengthAdjust="spacingAndGlyphs">1e−06</text>
<line x1="58.00" y1="721.50" x2="60.80" y2="721.50" stroke="#333" stroke-width="1" />
<text x="53.00" y="724.20" font-size="7.5" text-anchor="end" fill="#2a2a2a" stroke="#2a2a2a" stroke-width="0.18" textLength="29.00" lengthAdjust="spacingAndGlyphs">Not−Det</text>
<line x1="68.10" y1="729.20" x2="68.10" y2="732.00" stroke="#333" stroke-width="1" />
<text x="70.80" y="737.30" font-size="7.5" text-anchor="end" fill="#2a2a2a" stroke="#2a2a2a" stroke-width="0.18" textLength="29.00" lengthAdjust="spacingAndGlyphs" transform="rotate(-90 70.80 737.30)">Not−Det</text>
<line x1="88.94" y1="729.20" x2="88.94" y2="732.00" stroke="#333" stroke-width="1" />
<text x="91.64" y="737.30" font-size="7.5" text-anchor="end" fill="#2a2a2a" stroke="#2a2a2a" stroke-width="0.18" textLength="21.60" lengthAdjust="spacingAndGlyphs" transform="rotate(-90 91.64 737.30)">1e−06</text>
<line x1="109.78" y1="729.20" x2="109.78" y2="732.00" stroke="#333" stroke-width="1" />
<text x="112.48" y="737.30" font-size="7.5" text-anchor="end" fill="#2a2a2a" stroke="#2a2a2a" stroke-width="0.18" textLength="21.60" lengthAdjust="spacingAndGlyphs" transform="rotate(-90 112.48 737.30)">1e−05</text>
<line x1="130.62" y1="729.20" x2="130.62" y2="732.00" stroke="#333" stroke-width="1" />
<text x="133.32" y="737.30" font-size="7.5" text-anchor="end" fill="#2a2a2a" stroke="#2a2a2a" stroke-width="0.18" textLength="21.60" lengthAdjust="spacingAndGlyphs" transform="rotate(-90 133.32 737.30)">1e−04</text>
<line x1="151.46" y1="729.20" x2="151.46" y2="732.00" stroke="#333" stroke-width="1" />
<text x="154.16" y="737.30" font-size="7.5" text-anchor="end" fill="#2a2a2a" stroke="#2a2a2a" stroke-width="0.18" transform="rotate(-90 154.16 737.30)">0.001</text>
<line x1="172.30" y1="729.20" x2="172.30" y2="732.00" stroke="#333" stroke-width="1" />
<text x="175.00" y="737.30" font-size="7.5" text-anchor="end" fill="#2a2a2a" stroke="#2a2a2a" stroke-width="0.18" transform="rotate(-90 175.00 737.30)">0.01</text>
<line x1="193.14" y1="729.20" x2="193.14" y2="732.00" stroke="#333" stroke-width="1" />
<text x="195.84" y="737.30" font-size="7.5" text-anchor="end" fill="#2a2a2a" stroke="#2a2a2a" stroke-width="0.18" transform="rotate(-90 195.84 737.30)">0.1</text>
<line x1="213.98" y1="729.20" x2="213.98" y2="732.00" stroke="#333" stroke-width="1" />
<text x="216.68" y="737.30" font-size="7.5" text-anchor="end" fill="#2a2a2a" stroke="#2a2a2a" stroke-width="0.18" transform="rotate(-90 216.68 737.30)">1</text>
<text x="141.30" y="779.00" font-size="10" text-anchor="middle" fill="#222" font-weight="bold" textLength="79.60" lengthAdjust="spacingAndGlyphs">Proportion recipient cells</text>
<text x="17.50" y="648.25" font-size="10" text-anchor="middle" fill="#222" font-weight="bold" textLength="122.50" lengthAdjust="spacingAndGlyphs" transform="rotate(-90 17.50 648.25)">Proportion MRD from total white cells</text>
<text x="76.30" y="578.90" font-size="7.6" fill="#333" stroke="#333" stroke-width="0.18" textLength="67.40" lengthAdjust="spacingAndGlyphs">spearman r = 0.139</text>
<text x="88.10" y="591.10" font-size="7.6" fill="#333" stroke="#333" stroke-width="0.18" font-style="italic">P</text>
<text x="95.30" y="591.10" font-size="7.6" fill="#333" stroke="#333" stroke-width="0.18" textLength="36.60" lengthAdjust="spacingAndGlyphs">= 1.8e−02</text>
<line x1="68.10" y1="721.50" x2="221.30" y2="568.50" stroke="#1f2552" stroke-width="1.15" stroke-dasharray="3.2 2.4"/>
<line x1="108.20" y1="611.20" x2="122.90" y2="611.20" stroke="rgba(170,100,100,0.45)" stroke-width="0.8" />
<line x1="108.20" y1="610.10" x2="108.20" y2="612.30" stroke="rgba(170,100,100,0.45)" stroke-width="0.8" />
<line x1="122.90" y1="610.10" x2="122.90" y2="612.30" stroke="rgba(170,100,100,0.45)" stroke-width="0.8" />
<circle cx="115.60" cy="611.20" r="2.2" fill="rgba(235,120,110,0.25)"/>
<circle cx="115.60" cy="611.20" r="1.0" fill="rgba(120,70,80,0.55)"/>
<circle cx="115.60" cy="611.20" r="2.8" fill="rgba(240,175,140,0.35)"/>
<line x1="150.80" y1="585.50" x2="153.80" y2="585.50" stroke="rgba(170,100,100,0.45)" stroke-width="0.8" />
<line x1="150.80" y1="584.40" x2="150.80" y2="586.60" stroke="rgba(170,100,100,0.45)" stroke-width="0.8" />
<line x1="153.80" y1="584.40" x2="153.80" y2="586.60" stroke="rgba(170,100,100,0.45)" stroke-width="0.8" />
<circle cx="152.30" cy="585.50" r="1.6" fill="rgba(235,120,110,0.25)"/>
<circle cx="152.30" cy="585.50" r="1.0" fill="rgba(120,70,80,0.55)"/>
<line x1="161.40" y1="598.30" x2="173.90" y2="598.30" stroke="rgba(170,100,100,0.45)" stroke-width="0.8" />
<line x1="161.40" y1="597.20" x2="161.40" y2="599.40" stroke="rgba(170,100,100,0.45)" stroke-width="0.8" />
<line x1="173.90" y1="597.20" x2="173.90" y2="599.40" stroke="rgba(170,100,100,0.45)" stroke-width="0.8" />
<circle cx="167.50" cy="598.30" r="1.6" fill="rgba(235,120,110,0.25)"/>
<circle cx="167.50" cy="598.30" r="1.0" fill="rgba(120,70,80,0.55)"/>
<line x1="191.50" y1="597.10" x2="196.50" y2="597.10" stroke="rgba(170,100,100,0.45)" stroke-width="0.8" />
<line x1="191.50" y1="596.00" x2="191.50" y2="598.20" stroke="rgba(170,100,100,0.45)" stroke-width="0.8" />
<line x1="196.50" y1="596.00" x2="196.50" y2="598.20" stroke="rgba(170,100,100,0.45)" stroke-width="0.8" />
<circle cx="193.10" cy="597.10" r="1.6" fill="rgba(235,120,110,0.25)"/>
<circle cx="193.10" cy="597.10" r="1.0" fill="rgba(120,70,80,0.55)"/>
<line x1="196.70" y1="595.60" x2="211.40" y2="595.60" stroke="rgba(170,100,100,0.45)" stroke-width="0.8" />
<line x1="196.70" y1="594.50" x2="196.70" y2="596.70" stroke="rgba(170,100,100,0.45)" stroke-width="0.8" />
<line x1="211.40" y1="594.50" x2="211.40" y2="596.70" stroke="rgba(170,100,100,0.45)" stroke-width="0.8" />
<circle cx="203.10" cy="595.60" r="1.6" fill="rgba(235,120,110,0.25)"/>
<circle cx="203.10" cy="595.60" r="1.0" fill="rgba(120,70,80,0.55)"/>
<circle cx="186.30" cy="605.60" r="1.6" fill="rgba(235,120,110,0.25)"/>
<circle cx="186.30" cy="605.60" r="1.0" fill="rgba(120,70,80,0.55)"/>
<circle cx="205.50" cy="607.50" r="1.6" fill="rgba(235,120,110,0.25)"/>
<circle cx="205.50" cy="607.50" r="1.0" fill="rgba(120,70,80,0.55)"/>
<line x1="156.30" y1="623.60" x2="159.30" y2="623.60" stroke="rgba(170,100,100,0.45)" stroke-width="0.8" />
<line x1="156.30" y1="622.50" x2="156.30" y2="624.70" stroke="rgba(170,100,100,0.45)" stroke-width="0.8" />
<line x1="159.30" y1="622.50" x2="159.30" y2="624.70" stroke="rgba(170,100,100,0.45)" stroke-width="0.8" />
<circle cx="157.80" cy="623.60" r="1.6" fill="rgba(235,120,110,0.25)"/>
<circle cx="157.80" cy="623.60" r="1.0" fill="rgba(120,70,80,0.55)"/>
<line x1="161.00" y1="628.90" x2="164.20" y2="628.90" stroke="rgba(170,100,100,0.45)" stroke-width="0.8" />
<line x1="161.00" y1="627.80" x2="161.00" y2="630.00" stroke="rgba(170,100,100,0.45)" stroke-width="0.8" />
<line x1="164.20" y1="627.80" x2="164.20" y2="630.00" stroke="rgba(170,100,100,0.45)" stroke-width="0.8" />
<circle cx="162.50" cy="628.90" r="1.6" fill="rgba(235,120,110,0.25)"/>
<circle cx="162.50" cy="628.90" r="1.0" fill="rgba(120,70,80,0.55)"/>
<line x1="161.00" y1="634.00" x2="164.00" y2="634.00" stroke="rgba(170,100,100,0.45)" stroke-width="0.8" />
<line x1="161.00" y1="632.90" x2="161.00" y2="635.10" stroke="rgba(170,100,100,0.45)" stroke-width="0.8" />
<line x1="164.00" y1="632.90" x2="164.00" y2="635.10" stroke="rgba(170,100,100,0.45)" stroke-width="0.8" />
<circle cx="162.40" cy="634.00" r="1.6" fill="rgba(235,120,110,0.25)"/>
<circle cx="162.40" cy="634.00" r="1.0" fill="rgba(120,70,80,0.55)"/>
<circle cx="175.20" cy="634.00" r="1.6" fill="rgba(235,120,110,0.25)"/>
<circle cx="175.20" cy="634.00" r="1.0" fill="rgba(120,70,80,0.55)"/>
<circle cx="190.30" cy="635.40" r="1.6" fill="rgba(235,120,110,0.25)"/>
<circle cx="190.30" cy="635.40" r="1.0" fill="rgba(120,70,80,0.55)"/>
<line x1="134.60" y1="644.60" x2="141.30" y2="644.60" stroke="rgba(170,100,100,0.45)" stroke-width="0.8" />
<line x1="134.60" y1="643.50" x2="134.60" y2="645.70" stroke="rgba(170,100,100,0.45)" stroke-width="0.8" />
<line x1="141.30" y1="643.50" x2="141.30" y2="645.70" stroke="rgba(170,100,100,0.45)" stroke-width="0.8" />
<circle cx="137.90" cy="644.60" r="1.6" fill="rgba(235,120,110,0.25)"/>
<circle cx="137.90" cy="644.60" r="1.0" fill="rgba(120,70,80,0.55)"/>
<circle cx="173.50" cy="646.40" r="1.6" fill="rgba(235,120,110,0.25)"/>
<circle cx="173.50" cy="646.40" r="1.0" fill="rgba(120,70,80,0.55)"/>
<line x1="150.00" y1="665.40" x2="154.20" y2="665.40" stroke="rgba(170,100,100,0.45)" stroke-width="0.8" />
<line x1="150.00" y1="664.30" x2="150.00" y2="666.50" stroke="rgba(170,100,100,0.45)" stroke-width="0.8" />
<line x1="154.20" y1="664.30" x2="154.20" y2="666.50" stroke="rgba(170,100,100,0.45)" stroke-width="0.8" />
<circle cx="152.00" cy="665.40" r="1.6" fill="rgba(235,120,110,0.25)"/>
<circle cx="152.00" cy="665.40" r="1.0" fill="rgba(120,70,80,0.55)"/>
<line x1="172.00" y1="665.40" x2="175.20" y2="665.40" stroke="rgba(170,100,100,0.45)" stroke-width="0.8" />
<line x1="172.00" y1="664.30" x2="172.00" y2="666.50" stroke="rgba(170,100,100,0.45)" stroke-width="0.8" />
<line x1="175.20" y1="664.30" x2="175.20" y2="666.50" stroke="rgba(170,100,100,0.45)" stroke-width="0.8" />
<circle cx="173.60" cy="665.40" r="1.6" fill="rgba(235,120,110,0.25)"/>
<circle cx="173.60" cy="665.40" r="1.0" fill="rgba(120,70,80,0.55)"/>
<defs><linearGradient id="ndg" x1="0" x2="1" y1="0" y2="0"><stop offset="0" stop-color="#d01428" stop-opacity="0"/><stop offset="0.12" stop-color="#d01428" stop-opacity="0.85"/><stop offset="0.25" stop-color="#d01428" stop-opacity="1"/><stop offset="0.8" stop-color="#d01428" stop-opacity="1"/><stop offset="1" stop-color="#d01428" stop-opacity="0.3"/></linearGradient></defs>
<line x1="68.10" y1="721.70" x2="214.00" y2="721.70" stroke="rgba(185,35,55,0.6)" stroke-width="1.1" />
<rect x="122.00" y="719.60" width="68.00" height="4.20" fill="url(#ndg)" rx="2"/>
<circle cx="112.90" cy="721.70" r="1.7" fill="rgba(205,25,45,0.55)"/>
<circle cx="118.00" cy="721.70" r="1.5" fill="rgba(205,25,45,0.45)"/>
<circle cx="120.50" cy="721.70" r="1.5" fill="rgba(205,25,45,0.45)"/>
<circle cx="123.00" cy="721.70" r="1.6" fill="rgba(205,25,45,0.5)"/>
<circle cx="125.50" cy="721.70" r="1.6" fill="rgba(205,25,45,0.5)"/>
<circle cx="193.00" cy="721.70" r="1.5" fill="rgba(205,25,45,0.55)"/>
<circle cx="197.80" cy="721.70" r="1.4" fill="rgba(205,25,45,0.5)"/>
<circle cx="200.50" cy="721.70" r="1.4" fill="rgba(205,25,45,0.5)"/>
<circle cx="203.80" cy="721.70" r="1.4" fill="rgba(205,25,45,0.5)"/>
<circle cx="207.20" cy="721.70" r="1.4" fill="rgba(205,25,45,0.5)"/>
<circle cx="212.60" cy="721.70" r="2.0" fill="rgba(205,25,45,0.7)"/>
<circle cx="80.00" cy="721.70" r="1.2" fill="rgba(205,25,45,0.3)"/>
<circle cx="88.00" cy="721.70" r="1.2" fill="rgba(205,25,45,0.3)"/>
<circle cx="96.00" cy="721.70" r="1.3" fill="rgba(205,25,45,0.35)"/>
<circle cx="104.00" cy="721.70" r="1.3" fill="rgba(205,25,45,0.35)"/>
<circle cx="68.30" cy="721.60" r="2.6" fill="rgba(200,30,55,0.75)"/>
<text x="287.20" y="20.60" font-size="14.5" font-weight="bold">D</text>
<rect x="330.50" y="8.30" width="177.90" height="18.40" fill="#c9c9ca" />
<text x="419.45" y="21.40" font-size="10.4" text-anchor="middle" fill="#222" stroke="#222" stroke-width="0.18">Combined MRD+Chim in BMA</text>
<rect x="343.20" y="43.00" width="8.00" height="7.30" fill="#c0102e" />
<text x="358.70" y="48.90" font-size="7.0" fill="#333" stroke="#333" stroke-width="0.18" textLength="8.00" lengthAdjust="spacingAndGlyphs">vs.</text>
<rect x="375.00" y="43.00" width="8.00" height="7.30" fill="#3bab3b" />
<text x="362.50" y="63.70" font-size="10.2" text-anchor="middle" fill="#222" stroke="#222" stroke-width="0.18" font-style="italic">unadjusted</text>
<rect x="455.90" y="43.00" width="8.00" height="7.30" fill="#c0102e" />
<text x="471.40" y="48.90" font-size="7.0" fill="#333" stroke="#333" stroke-width="0.18" textLength="8.00" lengthAdjust="spacingAndGlyphs">vs.</text>
<rect x="487.70" y="43.00" width="8.00" height="7.30" fill="#3bab3b" />
<text x="476.00" y="63.70" font-size="10.2" text-anchor="middle" fill="#222" stroke="#222" stroke-width="0.18" font-style="italic">adjusted</text>
<line x1="333.55" y1="115.90" x2="388.50" y2="115.90" stroke="#e4aa4c" stroke-width="1.4" stroke-dasharray="7 7.6"/>
<line x1="447.40" y1="115.90" x2="502.00" y2="115.90" stroke="#e4aa4c" stroke-width="1.4" stroke-dasharray="7 7.6"/>
<polygon points="345.25,91.00 347.00,90.50 349.00,89.50 351.00,87.00 353.00,83.50 355.00,81.50 358.00,80.00 361.00,79.50 364.00,81.50 366.50,84.50 368.30,87.50 369.50,91.00 370.40,96.00 371.50,102.00 372.50,108.00 373.20,112.00 374.20,117.00 375.00,121.00 376.20,125.00 377.40,128.50 378.30,133.00 378.80,136.50 380.50,128.50 382.50,131.30 385.20,130.00 387.60,133.30 389.60,138.70 391.50,141.00 391.50,147.00 389.60,144.70 387.60,139.30 385.20,136.00 382.50,137.30 380.50,134.50 378.80,142.50 378.30,139.00 377.40,136.50 376.20,133.00 375.00,129.00 374.20,125.00 373.20,120.00 372.50,116.00 371.50,110.00 370.40,104.00 369.50,99.00 368.30,95.50 366.50,92.50 364.00,89.50 361.00,87.50 358.00,88.00 355.00,89.50 353.00,91.50 351.00,95.00 349.00,101.00 347.00,102.00 345.25,102.50" fill="rgba(115,150,190,0.6)" stroke="none" stroke-width="1" />
<polyline points="345.25,96.00 347.00,95.50 349.00,94.50 351.00,91.00 353.00,87.50 355.00,85.50 358.00,84.00 361.00,83.50 364.00,85.50 366.50,88.50 368.30,91.50 369.50,95.00 370.40,100.00 371.50,106.00 372.50,112.00 373.20,116.00 374.20,121.00 375.00,125.00 376.20,129.00 377.40,132.50 378.30,136.00 378.80,139.50 380.50,131.50 382.50,134.30 385.20,133.00 387.60,136.30 389.60,141.70 391.50,144.00" stroke="#2ba3e0" stroke-width="3.6" fill="none" stroke-linejoin="round" stroke-linecap="round"/>
<polyline points="345.25,96.50 346.50,93.50 348.75,99.50 350.00,95.50 351.50,92.00 353.10,86.50 355.00,87.00 356.50,84.00 358.75,84.50 360.00,82.50 361.25,85.00 363.00,84.00 365.00,87.50 366.50,88.00 368.10,91.25 368.30,95.70 369.80,99.50 370.30,105.50 371.90,112.70 372.00,115.50 373.60,120.50 373.80,125.70 375.60,128.50 376.20,132.00 377.70,136.70 377.60,139.00 379.90,131.00 381.30,135.00 384.60,132.50 386.40,135.80 389.00,142.40 390.30,143.50" stroke="rgba(15,15,25,0.8)" stroke-width="0.65" fill="none" stroke-linejoin="round"/>
<polygon points="377.80,138.00 379.80,138.00 379.20,170.00 378.40,170.00" fill="rgba(80,80,85,0.9)" stroke="none" stroke-width="1" />
<polygon points="458.10,97.00 461.00,94.50 464.00,92.00 467.00,90.50 470.00,91.00 473.00,90.50 476.00,91.00 479.00,91.00 481.30,93.50 482.80,101.00 483.75,105.75 485.00,114.50 486.00,121.00 486.90,127.00 487.50,133.00 488.50,139.50 490.60,143.25 492.50,158.25 493.10,150.75 495.00,155.75 498.75,157.00 500.00,163.00 501.25,172.00 502.50,183.25 503.75,187.00 503.75,193.00 502.50,189.25 501.25,178.00 500.00,169.00 498.75,163.00 495.00,161.75 493.10,156.75 492.50,164.25 490.60,149.25 488.50,145.50 487.50,139.00 486.90,133.00 486.00,127.00 485.00,120.50 483.75,111.75 482.80,107.00 481.30,105.00 479.00,102.50 476.00,102.50 473.00,102.00 470.00,102.50 467.00,102.00 464.00,103.50 461.00,106.00 458.10,108.50" fill="rgba(115,150,190,0.6)" stroke="none" stroke-width="1" />
<polyline points="458.10,102.50 461.00,100.00 464.00,97.50 467.00,96.00 470.00,96.50 473.00,96.00 476.00,96.50 479.00,96.50 481.30,99.00 482.80,104.00 483.75,108.75 485.00,117.50 486.00,124.00 486.90,130.00 487.50,136.00 488.50,142.50 490.60,146.25 492.50,161.25 493.10,153.75 495.00,158.75 498.75,160.00 500.00,166.00 501.25,175.00 502.50,186.25 503.75,190.00" stroke="#2ba3e0" stroke-width="3.6" fill="none" stroke-linejoin="round" stroke-linecap="round"/>
<polyline points="458.10,103.10 459.50,100.50 461.25,101.00 462.50,98.00 463.75,96.25 465.00,95.00 466.50,89.40 468.10,98.10 470.00,101.25 471.90,97.50 473.75,94.40 475.00,97.00 476.25,97.50 478.10,95.00 480.60,96.90 482.50,103.75 482.55,109.45 484.40,117.00 484.80,123.50 486.30,130.70 486.30,135.50 487.90,142.00 489.40,146.95 491.90,160.75 491.90,153.25 494.40,159.45 497.55,159.50 499.40,165.50 500.05,175.70 501.90,185.75 502.55,189.50" stroke="rgba(15,15,25,0.8)" stroke-width="0.65" fill="none" stroke-linejoin="round"/>
<polygon points="491.30,150.00 493.30,150.00 492.70,195.00 491.90,195.00" fill="rgba(80,80,85,0.9)" stroke="none" stroke-width="1" />
<line x1="502.80" y1="185.00" x2="502.80" y2="198.80" stroke="rgba(120,120,120,0.7)" stroke-width="1.0" />
<rect x="332.75" y="70.20" width="59.75" height="134.00" fill="none" stroke="#000" stroke-width="1.3" />
<line x1="329.95" y1="76.25" x2="332.75" y2="76.25" stroke="#333" stroke-width="1" />
<text x="324.95" y="78.95" font-size="7.5" text-anchor="end" fill="#2a2a2a" stroke="#2a2a2a" stroke-width="0.18">1</text>
<line x1="329.95" y1="106.75" x2="332.75" y2="106.75" stroke="#333" stroke-width="1" />
<text x="324.95" y="109.45" font-size="7.5" text-anchor="end" fill="#2a2a2a" stroke="#2a2a2a" stroke-width="0.18">0.1</text>
<line x1="329.95" y1="137.25" x2="332.75" y2="137.25" stroke="#333" stroke-width="1" />
<text x="324.95" y="139.95" font-size="7.5" text-anchor="end" fill="#2a2a2a" stroke="#2a2a2a" stroke-width="0.18">0.01</text>
<line x1="329.95" y1="167.75" x2="332.75" y2="167.75" stroke="#333" stroke-width="1" />
<text x="324.95" y="170.45" font-size="7.5" text-anchor="end" fill="#2a2a2a" stroke="#2a2a2a" stroke-width="0.18">0.001</text>
<line x1="329.95" y1="198.25" x2="332.75" y2="198.25" stroke="#333" stroke-width="1" />
<text x="324.95" y="200.95" font-size="7.5" text-anchor="end" fill="#2a2a2a" stroke="#2a2a2a" stroke-width="0.18" textLength="21.60" lengthAdjust="spacingAndGlyphs">1e−04</text>
<line x1="334.40" y1="204.20" x2="334.40" y2="207.00" stroke="#333" stroke-width="1" />
<text x="337.10" y="212.00" font-size="7.5" text-anchor="end" fill="#2a2a2a" stroke="#2a2a2a" stroke-width="0.18" textLength="21.60" lengthAdjust="spacingAndGlyphs" transform="rotate(-90 337.10 212.00)">1e−05</text>
<line x1="348.70" y1="204.20" x2="348.70" y2="207.00" stroke="#333" stroke-width="1" />
<text x="351.40" y="212.00" font-size="7.5" text-anchor="end" fill="#2a2a2a" stroke="#2a2a2a" stroke-width="0.18" textLength="21.60" lengthAdjust="spacingAndGlyphs" transform="rotate(-90 351.40 212.00)">1e−04</text>
<line x1="363.00" y1="204.20" x2="363.00" y2="207.00" stroke="#333" stroke-width="1" />
<text x="365.70" y="212.00" font-size="7.5" text-anchor="end" fill="#2a2a2a" stroke="#2a2a2a" stroke-width="0.18" transform="rotate(-90 365.70 212.00)">0.001</text>
<line x1="377.30" y1="204.20" x2="377.30" y2="207.00" stroke="#333" stroke-width="1" />
<text x="380.00" y="212.00" font-size="7.5" text-anchor="end" fill="#2a2a2a" stroke="#2a2a2a" stroke-width="0.18" transform="rotate(-90 380.00 212.00)">0.01</text>
<line x1="391.60" y1="204.20" x2="391.60" y2="207.00" stroke="#333" stroke-width="1" />
<text x="394.30" y="212.00" font-size="7.5" text-anchor="end" fill="#2a2a2a" stroke="#2a2a2a" stroke-width="0.18" transform="rotate(-90 394.30 212.00)">0.1</text>
<rect x="446.60" y="70.20" width="59.40" height="134.00" fill="none" stroke="#000" stroke-width="1.3" />
<line x1="443.80" y1="76.25" x2="446.60" y2="76.25" stroke="#333" stroke-width="1" />
<text x="438.80" y="78.95" font-size="7.5" text-anchor="end" fill="#2a2a2a" stroke="#2a2a2a" stroke-width="0.18">1</text>
<line x1="443.80" y1="106.75" x2="446.60" y2="106.75" stroke="#333" stroke-width="1" />
<text x="438.80" y="109.45" font-size="7.5" text-anchor="end" fill="#2a2a2a" stroke="#2a2a2a" stroke-width="0.18">0.1</text>
<line x1="443.80" y1="137.25" x2="446.60" y2="137.25" stroke="#333" stroke-width="1" />
<text x="438.80" y="139.95" font-size="7.5" text-anchor="end" fill="#2a2a2a" stroke="#2a2a2a" stroke-width="0.18">0.01</text>
<line x1="443.80" y1="167.75" x2="446.60" y2="167.75" stroke="#333" stroke-width="1" />
<text x="438.80" y="170.45" font-size="7.5" text-anchor="end" fill="#2a2a2a" stroke="#2a2a2a" stroke-width="0.18">0.001</text>
<line x1="443.80" y1="198.25" x2="446.60" y2="198.25" stroke="#333" stroke-width="1" />
<text x="438.80" y="200.95" font-size="7.5" text-anchor="end" fill="#2a2a2a" stroke="#2a2a2a" stroke-width="0.18" textLength="21.60" lengthAdjust="spacingAndGlyphs">1e−04</text>
<line x1="448.10" y1="204.20" x2="448.10" y2="207.00" stroke="#333" stroke-width="1" />
<text x="450.80" y="212.00" font-size="7.5" text-anchor="end" fill="#2a2a2a" stroke="#2a2a2a" stroke-width="0.18" textLength="21.60" lengthAdjust="spacingAndGlyphs" transform="rotate(-90 450.80 212.00)">1e−05</text>
<line x1="462.40" y1="204.20" x2="462.40" y2="207.00" stroke="#333" stroke-width="1" />
<text x="465.10" y="212.00" font-size="7.5" text-anchor="end" fill="#2a2a2a" stroke="#2a2a2a" stroke-width="0.18" textLength="21.60" lengthAdjust="spacingAndGlyphs" transform="rotate(-90 465.10 212.00)">1e−04</text>
<line x1="476.70" y1="204.20" x2="476.70" y2="207.00" stroke="#333" stroke-width="1" />
<text x="479.40" y="212.00" font-size="7.5" text-anchor="end" fill="#2a2a2a" stroke="#2a2a2a" stroke-width="0.18" transform="rotate(-90 479.40 212.00)">0.001</text>
<line x1="491.00" y1="204.20" x2="491.00" y2="207.00" stroke="#333" stroke-width="1" />
<text x="493.70" y="212.00" font-size="7.5" text-anchor="end" fill="#2a2a2a" stroke="#2a2a2a" stroke-width="0.18" transform="rotate(-90 493.70 212.00)">0.01</text>
<line x1="505.30" y1="204.20" x2="505.30" y2="207.00" stroke="#333" stroke-width="1" />
<text x="508.00" y="212.00" font-size="7.5" text-anchor="end" fill="#2a2a2a" stroke="#2a2a2a" stroke-width="0.18" transform="rotate(-90 508.00 212.00)">0.1</text>
<text x="295.50" y="137.35" font-size="9.3" text-anchor="middle" fill="#222" stroke="#222" stroke-width="0.3" textLength="45.70" lengthAdjust="spacingAndGlyphs" transform="rotate(-90 295.50 137.35)"><tspan font-style="italic">P</tspan>-values (Cox)</text>
<text x="364.60" y="248.50" font-size="9.4" text-anchor="middle" fill="#222" font-weight="bold" textLength="62.60" lengthAdjust="spacingAndGlyphs">Proportion recipient</text>
<line x1="407.50" y1="244.90" x2="430.00" y2="244.90" stroke="#111" stroke-width="1.1" />
<polygon points="434.80,244.90 429.50,242.60 429.50,247.20" fill="#111" stroke="none" stroke-width="1" />
<text x="287.60" y="282.20" font-size="14.5" font-weight="bold">E</text>
<polygon points="335.30,285.40 344.50,285.40 344.50,419.60 335.30,419.60" fill="rgba(138,138,156,0.66)" stroke="none" stroke-width="1" />
<polygon points="344.50,318.50 346.00,318.00 348.50,318.50 349.50,326.00 350.50,332.00 352.50,334.00 356.00,336.00 360.00,337.00 365.00,337.50 368.00,336.50 370.00,335.00 372.50,332.50 375.00,330.50 377.50,328.00 378.00,323.50 383.00,323.00 385.00,322.00 388.75,320.00 390.50,319.50 390.50,348.80 385.00,349.00 380.00,349.50 378.00,351.00 375.00,353.50 372.00,356.00 368.00,359.00 364.00,360.30 358.00,360.80 352.00,360.50 348.00,360.00 344.50,359.50" fill="rgba(138,138,156,0.66)" stroke="none" stroke-width="1" />
<polygon points="449.20,285.60 457.20,285.60 457.20,419.40 449.20,419.40" fill="rgba(138,138,156,0.66)" stroke="none" stroke-width="1" />
<polygon points="457.20,315.70 459.50,315.50 460.90,315.00 462.00,320.00 463.50,324.40 465.00,328.00 467.00,330.50 470.00,331.50 476.30,332.50 480.00,330.50 484.40,327.80 488.00,324.00 491.10,320.40 493.80,314.30 497.00,313.50 499.90,313.00 501.20,306.90 503.30,306.00 503.30,337.00 502.00,337.50 499.20,342.20 496.00,343.00 492.50,344.90 489.00,348.00 485.80,351.00 481.70,355.00 477.00,356.00 473.60,357.00 470.00,358.00 466.20,359.00 462.00,357.50 458.00,356.30" fill="rgba(138,138,156,0.66)" stroke="none" stroke-width="1" />
<line x1="333.55" y1="352.70" x2="388.50" y2="352.70" stroke="#e3a545" stroke-width="1.4" stroke-dasharray="7 7.6"/>
<line x1="447.30" y1="352.70" x2="502.00" y2="352.70" stroke="#e3a545" stroke-width="1.4" stroke-dasharray="7 7.6"/>
<polyline points="345.00,285.40 345.00,338.10 346.00,339.50 348.00,338.10 349.00,340.00 350.50,342.00 351.50,343.50 352.50,347.25 355.00,348.00 358.00,348.20 361.25,348.75 364.00,348.50 366.90,347.90 369.00,346.50 371.25,344.40 373.00,342.80 374.40,341.25 376.00,340.80 377.50,339.40 378.20,338.50 379.00,333.75 380.00,336.00 382.00,335.80 385.00,335.60 387.00,334.80 388.75,333.75 390.50,333.50" stroke="#104e3e" stroke-width="1.5" fill="none" stroke-linejoin="round"/>
<polyline points="458.20,285.60 458.20,335.90 460.00,335.50 461.50,335.20 462.80,337.50 464.20,340.60 465.50,343.00 467.00,346.00 469.00,342.20 471.00,343.00 473.00,344.50 475.00,345.30 477.50,345.00 480.40,344.60 482.50,343.00 484.40,341.20 486.00,338.50 487.80,335.20 490.00,334.00 491.80,333.20 492.50,328.50 495.00,328.80 497.00,328.20 499.20,327.80 501.20,322.40 502.60,322.40" stroke="#104e3e" stroke-width="1.5" fill="none" stroke-linejoin="round"/>
<rect x="332.75" y="285.40" width="59.75" height="134.20" fill="none" stroke="#000" stroke-width="1.3" />
<line x1="329.95" y1="291.35" x2="332.75" y2="291.35" stroke="#333" stroke-width="1" />
<text x="325.35" y="294.05" font-size="7.7" text-anchor="end" fill="#2a2a2a" stroke="#2a2a2a" stroke-width="0.18">1000</text>
<line x1="329.95" y1="311.70" x2="332.75" y2="311.70" stroke="#333" stroke-width="1" />
<text x="325.35" y="314.40" font-size="7.7" text-anchor="end" fill="#2a2a2a" stroke="#2a2a2a" stroke-width="0.18">100</text>
<line x1="329.95" y1="332.05" x2="332.75" y2="332.05" stroke="#333" stroke-width="1" />
<text x="325.35" y="334.75" font-size="7.7" text-anchor="end" fill="#2a2a2a" stroke="#2a2a2a" stroke-width="0.18">10</text>
<line x1="329.95" y1="352.40" x2="332.75" y2="352.40" stroke="#333" stroke-width="1" />
<text x="325.35" y="355.10" font-size="7.7" text-anchor="end" fill="#2a2a2a" stroke="#2a2a2a" stroke-width="0.18">1</text>
<line x1="329.95" y1="372.75" x2="332.75" y2="372.75" stroke="#333" stroke-width="1" />
<text x="325.35" y="375.45" font-size="7.7" text-anchor="end" fill="#2a2a2a" stroke="#2a2a2a" stroke-width="0.18">0.1</text>
<line x1="329.95" y1="393.10" x2="332.75" y2="393.10" stroke="#333" stroke-width="1" />
<text x="325.35" y="395.80" font-size="7.7" text-anchor="end" fill="#2a2a2a" stroke="#2a2a2a" stroke-width="0.18">0.01</text>
<line x1="329.95" y1="413.45" x2="332.75" y2="413.45" stroke="#333" stroke-width="1" />
<text x="325.35" y="416.15" font-size="7.7" text-anchor="end" fill="#2a2a2a" stroke="#2a2a2a" stroke-width="0.18">0.001</text>
<line x1="334.40" y1="419.60" x2="334.40" y2="422.40" stroke="#333" stroke-width="1" />
<text x="337.10" y="427.40" font-size="7.5" text-anchor="end" fill="#2a2a2a" stroke="#2a2a2a" stroke-width="0.18" textLength="21.60" lengthAdjust="spacingAndGlyphs" transform="rotate(-90 337.10 427.40)">1e−05</text>
<line x1="348.70" y1="419.60" x2="348.70" y2="422.40" stroke="#333" stroke-width="1" />
<text x="351.40" y="427.40" font-size="7.5" text-anchor="end" fill="#2a2a2a" stroke="#2a2a2a" stroke-width="0.18" textLength="21.60" lengthAdjust="spacingAndGlyphs" transform="rotate(-90 351.40 427.40)">1e−04</text>
<line x1="363.00" y1="419.60" x2="363.00" y2="422.40" stroke="#333" stroke-width="1" />
<text x="365.70" y="427.40" font-size="7.5" text-anchor="end" fill="#2a2a2a" stroke="#2a2a2a" stroke-width="0.18" transform="rotate(-90 365.70 427.40)">0.001</text>
<line x1="377.30" y1="419.60" x2="377.30" y2="422.40" stroke="#333" stroke-width="1" />
<text x="380.00" y="427.40" font-size="7.5" text-anchor="end" fill="#2a2a2a" stroke="#2a2a2a" stroke-width="0.18" transform="rotate(-90 380.00 427.40)">0.01</text>
<line x1="391.60" y1="419.60" x2="391.60" y2="422.40" stroke="#333" stroke-width="1" />
<text x="394.30" y="427.40" font-size="7.5" text-anchor="end" fill="#2a2a2a" stroke="#2a2a2a" stroke-width="0.18" transform="rotate(-90 394.30 427.40)">0.1</text>
<rect x="446.50" y="285.40" width="59.50" height="134.20" fill="none" stroke="#000" stroke-width="1.3" />
<line x1="443.70" y1="291.35" x2="446.50" y2="291.35" stroke="#333" stroke-width="1" />
<text x="439.10" y="294.05" font-size="7.7" text-anchor="end" fill="#2a2a2a" stroke="#2a2a2a" stroke-width="0.18">1000</text>
<line x1="443.70" y1="311.70" x2="446.50" y2="311.70" stroke="#333" stroke-width="1" />
<text x="439.10" y="314.40" font-size="7.7" text-anchor="end" fill="#2a2a2a" stroke="#2a2a2a" stroke-width="0.18">100</text>
<line x1="443.70" y1="332.05" x2="446.50" y2="332.05" stroke="#333" stroke-width="1" />
<text x="439.10" y="334.75" font-size="7.7" text-anchor="end" fill="#2a2a2a" stroke="#2a2a2a" stroke-width="0.18">10</text>
<line x1="443.70" y1="352.40" x2="446.50" y2="352.40" stroke="#333" stroke-width="1" />
<text x="439.10" y="355.10" font-size="7.7" text-anchor="end" fill="#2a2a2a" stroke="#2a2a2a" stroke-width="0.18">1</text>
<line x1="443.70" y1="372.75" x2="446.50" y2="372.75" stroke="#333" stroke-width="1" />
<text x="439.10" y="375.45" font-size="7.7" text-anchor="end" fill="#2a2a2a" stroke="#2a2a2a" stroke-width="0.18">0.1</text>
<line x1="443.70" y1="393.10" x2="446.50" y2="393.10" stroke="#333" stroke-width="1" />
<text x="439.10" y="395.80" font-size="7.7" text-anchor="end" fill="#2a2a2a" stroke="#2a2a2a" stroke-width="0.18">0.01</text>
<line x1="443.70" y1="413.45" x2="446.50" y2="413.45" stroke="#333" stroke-width="1" />
<text x="439.10" y="416.15" font-size="7.7" text-anchor="end" fill="#2a2a2a" stroke="#2a2a2a" stroke-width="0.18">0.001</text>
<line x1="448.10" y1="419.60" x2="448.10" y2="422.40" stroke="#333" stroke-width="1" />
<text x="450.80" y="427.40" font-size="7.5" text-anchor="end" fill="#2a2a2a" stroke="#2a2a2a" stroke-width="0.18" textLength="21.60" lengthAdjust="spacingAndGlyphs" transform="rotate(-90 450.80 427.40)">1e−05</text>
<line x1="462.40" y1="419.60" x2="462.40" y2="422.40" stroke="#333" stroke-width="1" />
<text x="465.10" y="427.40" font-size="7.5" text-anchor="end" fill="#2a2a2a" stroke="#2a2a2a" stroke-width="0.18" textLength="21.60" lengthAdjust="spacingAndGlyphs" transform="rotate(-90 465.10 427.40)">1e−04</text>
<line x1="476.70" y1="419.60" x2="476.70" y2="422.40" stroke="#333" stroke-width="1" />
<text x="479.40" y="427.40" font-size="7.5" text-anchor="end" fill="#2a2a2a" stroke="#2a2a2a" stroke-width="0.18" transform="rotate(-90 479.40 427.40)">0.001</text>
<line x1="491.00" y1="419.60" x2="491.00" y2="422.40" stroke="#333" stroke-width="1" />
<text x="493.70" y="427.40" font-size="7.5" text-anchor="end" fill="#2a2a2a" stroke="#2a2a2a" stroke-width="0.18" transform="rotate(-90 493.70 427.40)">0.01</text>
<line x1="505.30" y1="419.60" x2="505.30" y2="422.40" stroke="#333" stroke-width="1" />
<text x="508.00" y="427.40" font-size="7.5" text-anchor="end" fill="#2a2a2a" stroke="#2a2a2a" stroke-width="0.18" transform="rotate(-90 508.00 427.40)">0.1</text>
<text x="298.50" y="352.70" font-size="10.2" text-anchor="middle" fill="#222" font-weight="bold" textLength="94.20" lengthAdjust="spacingAndGlyphs" transform="rotate(-90 298.50 352.70)">Hazard ratios &amp; 95% CI (Cox)</text>
<text x="364.60" y="463.50" font-size="9.4" text-anchor="middle" fill="#222" font-weight="bold" textLength="62.60" lengthAdjust="spacingAndGlyphs">Proportion recipient</text>
<line x1="407.40" y1="460.30" x2="430.00" y2="460.30" stroke="#111" stroke-width="1.1" />
<polygon points="435.00,460.30 429.70,458.00 429.70,462.60" fill="#111" stroke="none" stroke-width="1" />
<polyline points="366.70,420.50 366.70,477.50 333.50,494.20 333.50,511.50" stroke="#d4398f" stroke-width="1.3" fill="none" stroke-dasharray="2.6 2.2"/>
<polyline points="366.70,477.50 510.00,496.50 510.00,516.50" stroke="#d4398f" stroke-width="1.3" fill="none" stroke-dasharray="2.6 2.2"/>
<text x="410.80" y="481.30" font-size="7.8" fill="#d4398f" stroke="#d4398f" stroke-width="0.05" textLength="61.00" lengthAdjust="spacingAndGlyphs" transform="rotate(6.2 410.80 481.30)">threshold = 0.005</text>
<text x="287.60" y="526.00" font-size="14.5" font-weight="bold">F</text>
<rect x="333.30" y="526.20" width="177.40" height="176.60" fill="none" stroke="#000" stroke-width="1.3" />
<line x1="330.50" y1="534.30" x2="333.30" y2="534.30" stroke="#333" stroke-width="1" />
<text x="325.40" y="537.00" font-size="7.8" text-anchor="end" fill="#2a2a2a" stroke="#2a2a2a" stroke-width="0.18">1.00</text>
<line x1="330.50" y1="574.55" x2="333.30" y2="574.55" stroke="#333" stroke-width="1" />
<text x="325.40" y="577.25" font-size="7.8" text-anchor="end" fill="#2a2a2a" stroke="#2a2a2a" stroke-width="0.18">0.75</text>
<line x1="330.50" y1="614.80" x2="333.30" y2="614.80" stroke="#333" stroke-width="1" />
<text x="325.40" y="617.50" font-size="7.8" text-anchor="end" fill="#2a2a2a" stroke="#2a2a2a" stroke-width="0.18">0.50</text>
<line x1="330.50" y1="655.05" x2="333.30" y2="655.05" stroke="#333" stroke-width="1" />
<text x="325.40" y="657.75" font-size="7.8" text-anchor="end" fill="#2a2a2a" stroke="#2a2a2a" stroke-width="0.18">0.25</text>
<line x1="330.50" y1="695.30" x2="333.30" y2="695.30" stroke="#333" stroke-width="1" />
<text x="325.40" y="698.00" font-size="7.8" text-anchor="end" fill="#2a2a2a" stroke="#2a2a2a" stroke-width="0.18">0.00</text>
<line x1="341.30" y1="702.80" x2="341.30" y2="705.60" stroke="#333" stroke-width="1" />
<text x="341.30" y="717.70" font-size="8.0" text-anchor="middle" fill="#2a2a2a" stroke="#2a2a2a" stroke-width="0.18">0</text>
<line x1="373.55" y1="702.80" x2="373.55" y2="705.60" stroke="#333" stroke-width="1" />
<text x="373.55" y="717.70" font-size="8.0" text-anchor="middle" fill="#2a2a2a" stroke="#2a2a2a" stroke-width="0.18">365</text>
<line x1="405.80" y1="702.80" x2="405.80" y2="705.60" stroke="#333" stroke-width="1" />
<text x="405.80" y="717.70" font-size="8.0" text-anchor="middle" fill="#2a2a2a" stroke="#2a2a2a" stroke-width="0.18">730</text>
<line x1="438.05" y1="702.80" x2="438.05" y2="705.60" stroke="#333" stroke-width="1" />
<text x="438.05" y="717.70" font-size="8.0" text-anchor="middle" fill="#2a2a2a" stroke="#2a2a2a" stroke-width="0.18">1095</text>
<line x1="470.30" y1="702.80" x2="470.30" y2="705.60" stroke="#333" stroke-width="1" />
<text x="470.30" y="717.70" font-size="8.0" text-anchor="middle" fill="#2a2a2a" stroke="#2a2a2a" stroke-width="0.18">1460</text>
<line x1="502.55" y1="702.80" x2="502.55" y2="705.60" stroke="#333" stroke-width="1" />
<text x="502.55" y="717.70" font-size="8.0" text-anchor="middle" fill="#2a2a2a" stroke="#2a2a2a" stroke-width="0.18">1825</text>
<text x="422.00" y="732.20" font-size="9.4" text-anchor="middle" fill="#222" font-weight="bold" textLength="60.40" lengthAdjust="spacingAndGlyphs">Days post-allo-HCT</text>
<text x="303.80" y="615.40" font-size="10.3" text-anchor="middle" fill="#222" font-weight="bold" textLength="94.20" lengthAdjust="spacingAndGlyphs" transform="rotate(-90 303.80 615.40)">Fraction relapse (cumulative)</text>
<rect x="359.30" y="534.50" width="8.20" height="8.00" fill="#c0102e" />
<text x="374.50" y="541.00" font-size="7.2" fill="#333" stroke="#333" stroke-width="0.18" textLength="7.80" lengthAdjust="spacingAndGlyphs">vs.</text>
<rect x="391.30" y="534.80" width="8.10" height="8.10" fill="#3bab3b" />
<rect x="359.30" y="557.60" width="8.20" height="8.00" fill="#ee9413" />
<text x="374.50" y="564.10" font-size="7.2" fill="#333" stroke="#333" stroke-width="0.18" textLength="7.80" lengthAdjust="spacingAndGlyphs">vs.</text>
<rect x="391.30" y="557.70" width="8.10" height="8.10" fill="#3bab3b" />
<path d="M408.9 531.5 C406.29999999999995 531.5 406.29999999999995 532.3 406.29999999999995 534.0 L406.29999999999995 536.65 C406.29999999999995 538.05 405.4 538.65 404.4 538.65 C405.4 538.65 406.29999999999995 539.25 406.29999999999995 540.65 L406.29999999999995 543.3 C406.29999999999995 545.0 406.29999999999995 545.8 408.9 545.8" stroke="#333" stroke-width="0.9" fill="none" />
<path d="M408.9 554.6 C406.29999999999995 554.6 406.29999999999995 555.4 406.29999999999995 557.1 L406.29999999999995 559.7 C406.29999999999995 561.1 405.4 561.7 404.4 561.7 C405.4 561.7 406.29999999999995 562.3000000000001 406.29999999999995 563.7 L406.29999999999995 566.3 C406.29999999999995 568.0 406.29999999999995 568.8 408.9 568.8" stroke="#333" stroke-width="0.9" fill="none" />
<text x="504.00" y="534.80" font-size="7.9" text-anchor="end" fill="#333" stroke="#333" stroke-width="0.18" textLength="76.20" lengthAdjust="spacingAndGlyphs">HR = 3.8 [1.1 to 12.7]</text>
<text x="504.00" y="546.40" font-size="7.8" text-anchor="end" fill="#333" stroke="#333" stroke-width="0.18" textLength="87.10" lengthAdjust="spacingAndGlyphs">adj.HR = 7.1 [1.7 to 29.5]</text>
<text x="504.00" y="557.70" font-size="7.9" text-anchor="end" fill="#333" stroke="#333" stroke-width="0.18" textLength="72.30" lengthAdjust="spacingAndGlyphs">HR = 0.5 [0.2 to 1.1]</text>
<text x="504.00" y="569.10" font-size="7.9" text-anchor="end" fill="#333" stroke="#333" stroke-width="0.18" textLength="84.40" lengthAdjust="spacingAndGlyphs">adj.HR = 0.3 [0.1 to 0.8]</text>
<text x="496.80" y="595.90" font-size="7.4" text-anchor="end" fill="#333" stroke="#333" stroke-width="0.18" textLength="32.60" lengthAdjust="spacingAndGlyphs">n.max = 5</text>
<text x="501.10" y="635.60" font-size="7.4" text-anchor="end" fill="#333" stroke="#333" stroke-width="0.18" textLength="36.90" lengthAdjust="spacingAndGlyphs">n.max = 87</text>
<text x="501.10" y="654.40" font-size="7.4" text-anchor="end" fill="#333" stroke="#333" stroke-width="0.18" textLength="36.90" lengthAdjust="spacingAndGlyphs">n.max = 49</text>
<polyline points="341.30,695.30 349.60,695.30 349.60,691.50 355.40,691.50 355.40,689.60 357.30,689.60 357.30,683.80 362.10,683.80 362.10,681.00 364.00,681.00 364.00,675.20 372.90,675.20 372.90,672.20 375.80,672.20 375.80,670.80 380.40,670.80 380.40,668.50 383.00,668.50 383.00,665.90 391.60,665.90 391.60,663.50 397.40,663.50 397.40,661.30 510.70,661.30" stroke="#eb9517" stroke-width="1.3" fill="none" />
<line x1="366.00" y1="673.20" x2="366.00" y2="677.20" stroke="#eb9517" stroke-width="0.8" />
<line x1="368.00" y1="673.20" x2="368.00" y2="677.20" stroke="#eb9517" stroke-width="0.8" />
<line x1="370.50" y1="673.20" x2="370.50" y2="677.20" stroke="#eb9517" stroke-width="0.8" />
<line x1="374.00" y1="670.20" x2="374.00" y2="674.20" stroke="#eb9517" stroke-width="0.8" />
<line x1="378.00" y1="668.80" x2="378.00" y2="672.80" stroke="#eb9517" stroke-width="0.8" />
<line x1="414.70" y1="659.30" x2="414.70" y2="663.30" stroke="#eb9517" stroke-width="0.8" />
<line x1="417.00" y1="659.30" x2="417.00" y2="663.30" stroke="#eb9517" stroke-width="0.8" />
<line x1="419.00" y1="659.30" x2="419.00" y2="663.30" stroke="#eb9517" stroke-width="0.8" />
<line x1="439.00" y1="659.30" x2="439.00" y2="663.30" stroke="#eb9517" stroke-width="0.8" />
<line x1="472.00" y1="659.30" x2="472.00" y2="663.30" stroke="#eb9517" stroke-width="0.8" />
<line x1="487.00" y1="659.30" x2="487.00" y2="663.30" stroke="#eb9517" stroke-width="0.8" />
<line x1="493.00" y1="659.30" x2="493.00" y2="663.30" stroke="#eb9517" stroke-width="0.8" />
<polyline points="346.50,695.30 347.70,687.70 348.50,684.00 349.60,678.00 350.50,677.00 351.50,676.20 353.00,674.50 354.50,672.50 356.30,671.30 358.00,669.50 359.50,668.00 361.20,666.50 362.50,661.00 364.00,655.00 365.50,654.00 367.00,653.00 368.50,651.00 370.80,649.20 372.00,647.00 373.60,644.40 376.50,644.80 398.80,644.80 398.80,642.80 421.90,642.80 421.90,641.40 510.70,641.40" stroke="#3aa23a" stroke-width="1.3" fill="none" stroke-linejoin="round"/>
<line x1="374.30" y1="642.80" x2="374.30" y2="646.80" stroke="#3aa23a" stroke-width="0.8" />
<line x1="376.00" y1="642.80" x2="376.00" y2="646.80" stroke="#3aa23a" stroke-width="0.8" />
<line x1="377.80" y1="642.80" x2="377.80" y2="646.80" stroke="#3aa23a" stroke-width="0.8" />
<line x1="379.50" y1="642.80" x2="379.50" y2="646.80" stroke="#3aa23a" stroke-width="0.8" />
<line x1="381.30" y1="642.80" x2="381.30" y2="646.80" stroke="#3aa23a" stroke-width="0.8" />
<line x1="436.00" y1="639.40" x2="436.00" y2="643.40" stroke="#3aa23a" stroke-width="0.8" />
<line x1="438.00" y1="639.40" x2="438.00" y2="643.40" stroke="#3aa23a" stroke-width="0.8" />
<line x1="440.00" y1="639.40" x2="440.00" y2="643.40" stroke="#3aa23a" stroke-width="0.8" />
<line x1="446.50" y1="639.40" x2="446.50" y2="643.40" stroke="#3aa23a" stroke-width="0.8" />
<line x1="458.00" y1="639.40" x2="458.00" y2="643.40" stroke="#3aa23a" stroke-width="0.8" />
<line x1="472.00" y1="639.40" x2="472.00" y2="643.40" stroke="#3aa23a" stroke-width="0.8" />
<line x1="503.00" y1="639.40" x2="503.00" y2="643.40" stroke="#3aa23a" stroke-width="0.8" />
<line x1="504.30" y1="639.40" x2="504.30" y2="643.40" stroke="#3aa23a" stroke-width="0.8" />
<line x1="341.40" y1="614.50" x2="348.60" y2="614.50" stroke="#222" stroke-width="0.9" stroke-dasharray="1.2 5"/>
<polyline points="341.30,695.30 345.40,695.30 345.40,663.00 348.80,663.00 348.80,598.70 510.70,598.70" stroke="#ab1440" stroke-width="1.3" fill="none" />
<line x1="348.80" y1="614.00" x2="348.80" y2="695.30" stroke="#222" stroke-width="0.9" stroke-dasharray="1.5 1.8"/>
<line x1="352.50" y1="596.60" x2="352.50" y2="600.80" stroke="#ab1440" stroke-width="0.8" />
<line x1="354.50" y1="596.60" x2="354.50" y2="600.80" stroke="#ab1440" stroke-width="0.8" />
<rect x="333.10" y="746.70" width="7.70" height="7.40" fill="#c0102e" />
<text x="344.60" y="752.80" font-size="7.3" fill="#333" stroke="#333" stroke-width="0.04" textLength="112.90" lengthAdjust="spacingAndGlyphs">MRD (by MFC) pos &amp; Chim &gt; thresh</text>
<rect x="333.10" y="758.70" width="7.70" height="7.40" fill="#ee9413" />
<text x="344.60" y="764.80" font-size="7.3" fill="#333" stroke="#333" stroke-width="0.04" textLength="158.90" lengthAdjust="spacingAndGlyphs">MRD (by MFC) pos &amp; Chim ≤ thresh OR vice versa</text>
<rect x="333.10" y="770.80" width="7.70" height="7.40" fill="#3bab3b" />
<text x="344.60" y="776.90" font-size="7.3" fill="#333" stroke="#333" stroke-width="0.04" textLength="113.90" lengthAdjust="spacingAndGlyphs">MRD (by MFC) neg &amp; Chim ≤ thresh</text>
<rect x="0.50" y="0.50" width="519.00" height="789.00" fill="none" stroke="#383838" stroke-width="1.0" />
</svg></body></html>
